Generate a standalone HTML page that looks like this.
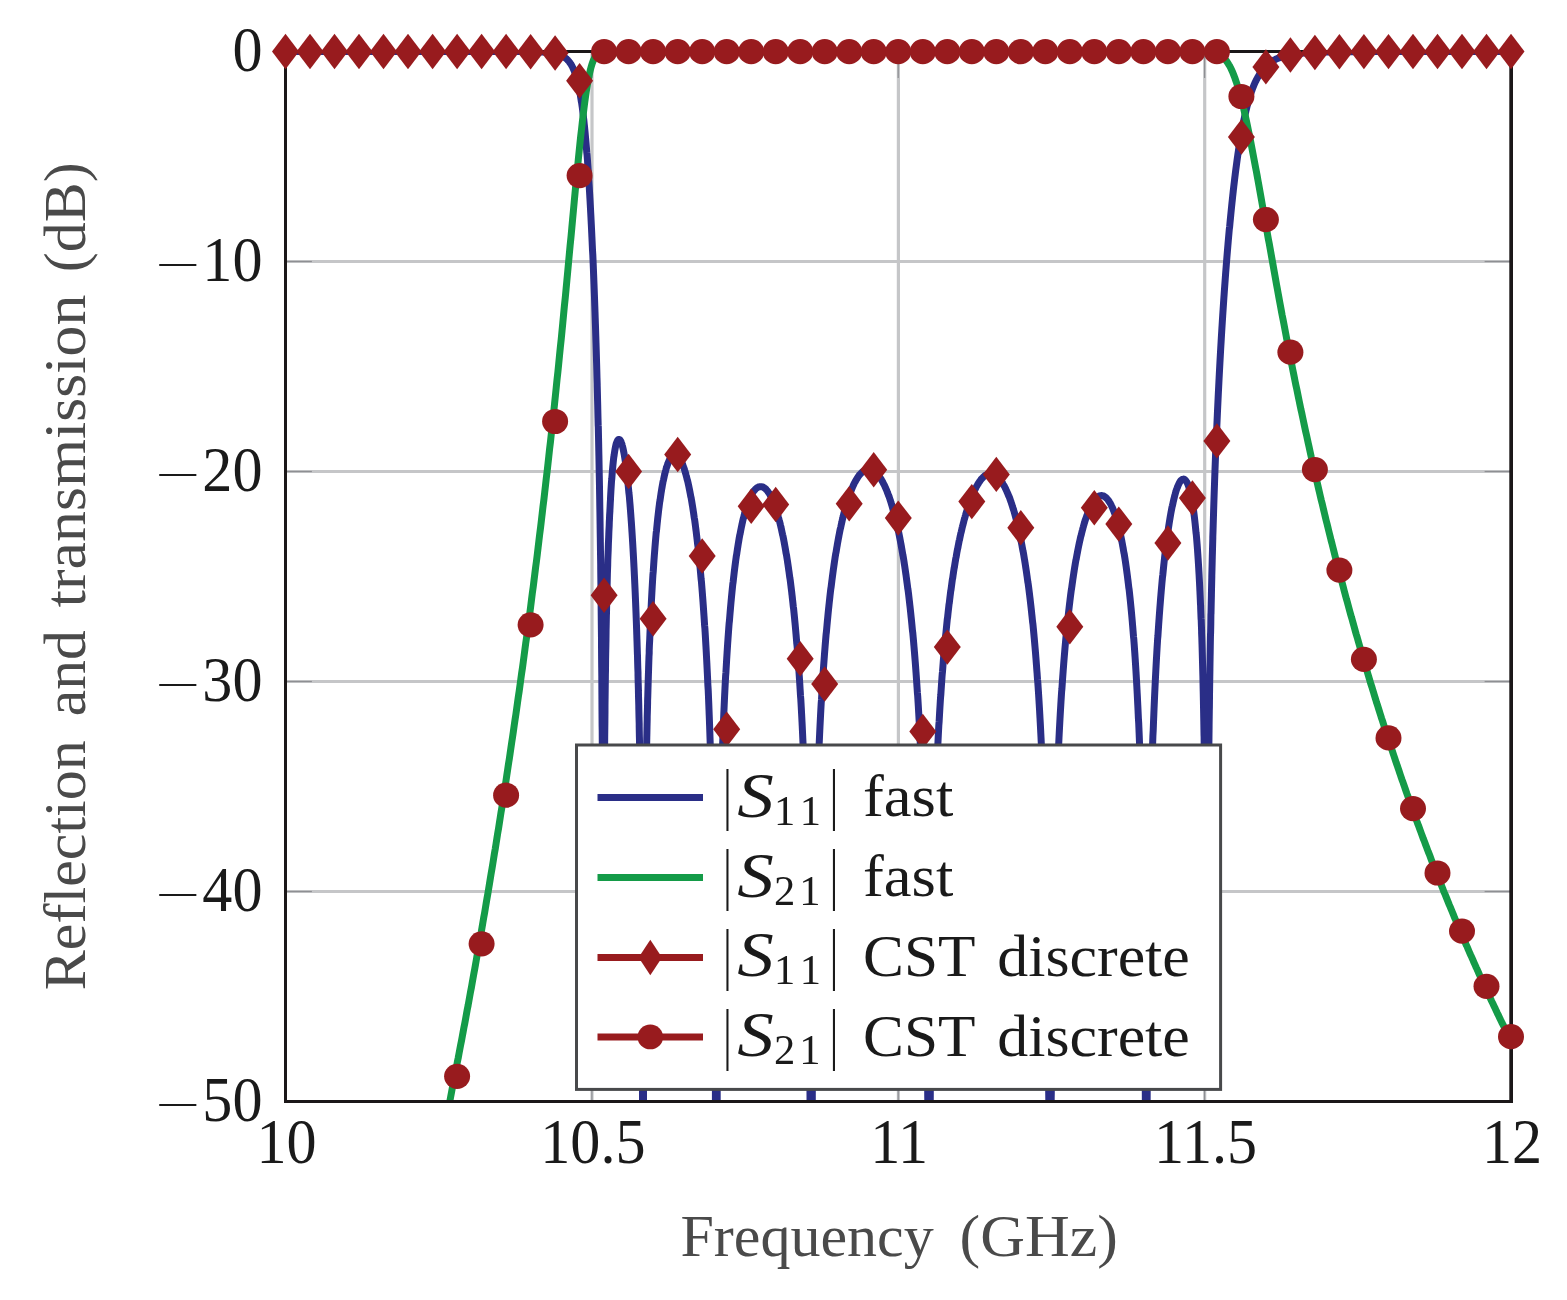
<!DOCTYPE html>
<html><head><meta charset="utf-8"><title>S-parameters</title>
<style>
html,body{margin:0;padding:0;background:#fff}
svg{display:block}
text{font-family:"Liberation Serif",serif;font-size:60px;fill:#1a1a1a}
.lab{fill:#4a4a4a}
.it{font-style:italic;font-size:63px}
.sub{font-size:42.5px;letter-spacing:6px}
.tk{font-size:64px}
</style></head><body>
<svg width="1567" height="1300" viewBox="0 0 1567 1300">
<rect width="1567" height="1300" fill="#fff"/>
<defs><clipPath id="cp"><rect x="285.5" y="50.2" width="1225.5" height="1051.3"/></clipPath></defs>
<g stroke="#c5c6c8" stroke-width="2.8"><line stroke-width="3.2" x1="592.0" y1="51.5" x2="592.0" y2="1101.5"/><line stroke-width="3.2" x1="898.4" y1="51.5" x2="898.4" y2="1101.5"/><line stroke-width="3.2" x1="1204.7" y1="51.5" x2="1204.7" y2="1101.5"/><line x1="285.5" y1="261.5" x2="1511.0" y2="261.5"/><line x1="285.5" y1="471.5" x2="1511.0" y2="471.5"/><line x1="285.5" y1="681.5" x2="1511.0" y2="681.5"/><line x1="285.5" y1="891.5" x2="1511.0" y2="891.5"/></g>
<g stroke="#8e8f93" stroke-width="1.2"><line x1="591.9" y1="51.5" x2="591.9" y2="77.9"/><line x1="591.9" y1="1101.5" x2="591.9" y2="1075.1"/><line x1="898.2" y1="51.5" x2="898.2" y2="77.9"/><line x1="898.2" y1="1101.5" x2="898.2" y2="1075.1"/><line x1="1204.6" y1="51.5" x2="1204.6" y2="77.9"/><line x1="1204.6" y1="1101.5" x2="1204.6" y2="1075.1"/><line x1="285.5" y1="261.5" x2="311.9" y2="261.5"/><line x1="1511.0" y1="261.5" x2="1484.6" y2="261.5"/><line x1="285.5" y1="471.5" x2="311.9" y2="471.5"/><line x1="1511.0" y1="471.5" x2="1484.6" y2="471.5"/><line x1="285.5" y1="681.5" x2="311.9" y2="681.5"/><line x1="1511.0" y1="681.5" x2="1484.6" y2="681.5"/><line x1="285.5" y1="891.5" x2="311.9" y2="891.5"/><line x1="1511.0" y1="891.5" x2="1484.6" y2="891.5"/></g>
<g clip-path="url(#cp)" fill="none" stroke-width="7" stroke-linejoin="round">
<polyline stroke="#2a2e87" points="282.5,51.5 282.9,51.5 283.3,51.5 283.7,51.5 284.1,51.5 284.5,51.5 285.0,51.5 285.4,51.5 285.8,51.5 286.2,51.5 286.6,51.5 287.0,51.5 287.4,51.5 287.8,51.5 288.2,51.5 288.6,51.5 289.0,51.5 289.4,51.5 289.9,51.5 290.3,51.5 290.7,51.5 291.1,51.5 291.5,51.5 291.9,51.5 292.3,51.5 292.7,51.5 293.1,51.5 293.5,51.5 293.9,51.5 294.3,51.5 294.8,51.5 295.2,51.5 295.6,51.5 296.0,51.5 296.4,51.5 296.8,51.5 297.2,51.5 297.6,51.5 298.0,51.5 298.4,51.5 298.8,51.5 299.2,51.5 299.7,51.5 300.1,51.5 300.5,51.5 300.9,51.5 301.3,51.5 301.7,51.5 302.1,51.5 302.5,51.5 302.9,51.5 303.3,51.5 303.7,51.5 304.2,51.5 304.6,51.5 305.0,51.5 305.4,51.5 305.8,51.5 306.2,51.5 306.6,51.5 307.0,51.5 307.4,51.5 307.8,51.5 308.2,51.5 308.6,51.5 309.1,51.5 309.5,51.5 309.9,51.5 310.3,51.5 310.7,51.5 311.1,51.5 311.5,51.5 311.9,51.5 312.3,51.5 312.7,51.5 313.1,51.5 313.5,51.5 314.0,51.5 314.4,51.5 314.8,51.5 315.2,51.5 315.6,51.5 316.0,51.5 316.4,51.5 316.8,51.5 317.2,51.5 317.6,51.5 318.0,51.5 318.4,51.5 318.9,51.5 319.3,51.5 319.7,51.5 320.1,51.5 320.5,51.5 320.9,51.5 321.3,51.5 321.7,51.5 322.1,51.5 322.5,51.5 322.9,51.5 323.3,51.5 323.8,51.5 324.2,51.5 324.6,51.5 325.0,51.5 325.4,51.5 325.8,51.5 326.2,51.5 326.6,51.5 327.0,51.5 327.4,51.5 327.8,51.5 328.3,51.5 328.7,51.5 329.1,51.5 329.5,51.5 329.9,51.5 330.3,51.5 330.7,51.5 331.1,51.5 331.5,51.5 331.9,51.5 332.3,51.5 332.7,51.5 333.2,51.5 333.6,51.5 334.0,51.5 334.4,51.5 334.8,51.5 335.2,51.5 335.6,51.5 336.0,51.5 336.4,51.5 336.8,51.5 337.2,51.5 337.6,51.5 338.1,51.5 338.5,51.5 338.9,51.5 339.3,51.5 339.7,51.5 340.1,51.5 340.5,51.5 340.9,51.5 341.3,51.5 341.7,51.5 342.1,51.5 342.5,51.5 343.0,51.5 343.4,51.5 343.8,51.5 344.2,51.5 344.6,51.5 345.0,51.5 345.4,51.5 345.8,51.5 346.2,51.5 346.6,51.5 347.0,51.5 347.5,51.5 347.9,51.5 348.3,51.5 348.7,51.5 349.1,51.5 349.5,51.5 349.9,51.5 350.3,51.5 350.7,51.5 351.1,51.5 351.5,51.5 351.9,51.5 352.4,51.5 352.8,51.5 353.2,51.5 353.6,51.5 354.0,51.5 354.4,51.5 354.8,51.5 355.2,51.5 355.6,51.5 356.0,51.5 356.4,51.5 356.8,51.5 357.3,51.5 357.7,51.5 358.1,51.5 358.5,51.5 358.9,51.5 359.3,51.5 359.7,51.5 360.1,51.5 360.5,51.5 360.9,51.5 361.3,51.5 361.7,51.5 362.2,51.5 362.6,51.5 363.0,51.5 363.4,51.5 363.8,51.5 364.2,51.5 364.6,51.5 365.0,51.5 365.4,51.5 365.8,51.5 366.2,51.5 366.7,51.5 367.1,51.5 367.5,51.5 367.9,51.5 368.3,51.5 368.7,51.5 369.1,51.5 369.5,51.5 369.9,51.5 370.3,51.5 370.7,51.5 371.1,51.5 371.6,51.5 372.0,51.5 372.4,51.5 372.8,51.5 373.2,51.5 373.6,51.5 374.0,51.5 374.4,51.5 374.8,51.5 375.2,51.5 375.6,51.5 376.0,51.5 376.5,51.5 376.9,51.5 377.3,51.5 377.7,51.5 378.1,51.5 378.5,51.5 378.9,51.5 379.3,51.5 379.7,51.5 380.1,51.5 380.5,51.5 380.9,51.5 381.4,51.5 381.8,51.5 382.2,51.5 382.6,51.5 383.0,51.5 383.4,51.5 383.8,51.5 384.2,51.5 384.6,51.5 385.0,51.5 385.4,51.5 385.9,51.5 386.3,51.5 386.7,51.5 387.1,51.5 387.5,51.5 387.9,51.5 388.3,51.5 388.7,51.5 389.1,51.5 389.5,51.5 389.9,51.5 390.3,51.5 390.8,51.5 391.2,51.5 391.6,51.5 392.0,51.5 392.4,51.5 392.8,51.5 393.2,51.5 393.6,51.5 394.0,51.5 394.4,51.5 394.8,51.5 395.2,51.5 395.7,51.5 396.1,51.5 396.5,51.5 396.9,51.5 397.3,51.5 397.7,51.5 398.1,51.5 398.5,51.5 398.9,51.5 399.3,51.5 399.7,51.5 400.1,51.5 400.6,51.5 401.0,51.5 401.4,51.5 401.8,51.5 402.2,51.5 402.6,51.5 403.0,51.5 403.4,51.5 403.8,51.5 404.2,51.5 404.6,51.5 405.0,51.5 405.5,51.5 405.9,51.5 406.3,51.5 406.7,51.5 407.1,51.5 407.5,51.5 407.9,51.5 408.3,51.5 408.7,51.5 409.1,51.5 409.5,51.5 410.0,51.5 410.4,51.5 410.8,51.5 411.2,51.5 411.6,51.5 412.0,51.5 412.4,51.5 412.8,51.5 413.2,51.5 413.6,51.5 414.0,51.5 414.4,51.5 414.9,51.5 415.3,51.5 415.7,51.5 416.1,51.5 416.5,51.5 416.9,51.5 417.3,51.5 417.7,51.5 418.1,51.5 418.5,51.5 418.9,51.5 419.3,51.5 419.8,51.5 420.2,51.5 420.6,51.5 421.0,51.5 421.4,51.5 421.8,51.5 422.2,51.5 422.6,51.5 423.0,51.5 423.4,51.5 423.8,51.5 424.2,51.5 424.7,51.5 425.1,51.5 425.5,51.5 425.9,51.5 426.3,51.5 426.7,51.5 427.1,51.5 427.5,51.5 427.9,51.5 428.3,51.5 428.7,51.5 429.2,51.5 429.6,51.5 430.0,51.5 430.4,51.5 430.8,51.5 431.2,51.5 431.6,51.5 432.0,51.5 432.4,51.5 432.8,51.5 433.2,51.5 433.6,51.5 434.1,51.5 434.5,51.5 434.9,51.5 435.3,51.5 435.7,51.5 436.1,51.5 436.5,51.5 436.9,51.5 437.3,51.5 437.7,51.5 438.1,51.5 438.5,51.5 439.0,51.5 439.4,51.5 439.8,51.5 440.2,51.5 440.6,51.5 441.0,51.5 441.4,51.5 441.8,51.5 442.2,51.5 442.6,51.5 443.0,51.5 443.4,51.5 443.9,51.5 444.3,51.5 444.7,51.5 445.1,51.5 445.5,51.5 445.9,51.5 446.3,51.5 446.7,51.5 447.1,51.5 447.5,51.5 447.9,51.5 448.4,51.5 448.8,51.5 449.2,51.5 449.6,51.5 450.0,51.5 450.4,51.5 450.8,51.5 451.2,51.5 451.6,51.5 452.0,51.5 452.4,51.5 452.8,51.5 453.3,51.5 453.7,51.5 454.1,51.5 454.5,51.5 454.9,51.5 455.3,51.5 455.7,51.5 456.1,51.5 456.5,51.5 456.9,51.5 457.3,51.5 457.8,51.5 458.2,51.5 458.6,51.5 459.0,51.5 459.4,51.5 459.8,51.5 460.2,51.5 460.6,51.5 461.1,51.5 461.5,51.5 461.9,51.5 462.3,51.5 462.7,51.5 463.1,51.5 463.5,51.5 463.9,51.5 464.4,51.5 464.8,51.5 465.2,51.5 465.6,51.5 466.0,51.5 466.4,51.5 466.8,51.5 467.2,51.5 467.7,51.5 468.1,51.5 468.5,51.5 468.9,51.5 469.3,51.5 469.7,51.5 470.1,51.5 470.5,51.5 471.0,51.5 471.4,51.5 471.8,51.5 472.2,51.5 472.6,51.5 473.0,51.5 473.4,51.5 473.8,51.5 474.3,51.5 474.7,51.5 475.1,51.5 475.5,51.5 475.9,51.5 476.3,51.5 476.7,51.5 477.1,51.5 477.6,51.5 478.0,51.5 478.4,51.5 478.8,51.5 479.2,51.5 479.6,51.5 480.0,51.5 480.4,51.5 480.9,51.5 481.3,51.5 481.7,51.5 482.1,51.5 482.5,51.5 482.9,51.5 483.3,51.5 483.7,51.5 484.1,51.5 484.6,51.5 485.0,51.5 485.4,51.5 485.8,51.5 486.2,51.5 486.6,51.5 487.0,51.5 487.4,51.5 487.9,51.5 488.3,51.5 488.7,51.5 489.1,51.5 489.5,51.5 489.9,51.5 490.3,51.5 490.7,51.5 491.1,51.5 491.6,51.5 492.0,51.5 492.4,51.5 492.8,51.5 493.2,51.5 493.6,51.5 494.0,51.5 494.4,51.5 494.9,51.5 495.3,51.5 495.7,51.5 496.1,51.5 496.5,51.5 496.9,51.5 497.3,51.5 497.7,51.5 498.2,51.5 498.6,51.5 499.0,51.5 499.4,51.5 499.8,51.5 500.2,51.5 500.6,51.5 501.0,51.5 501.4,51.5 501.9,51.5 502.3,51.5 502.7,51.5 503.1,51.5 503.5,51.5 503.9,51.5 504.3,51.5 504.7,51.5 505.2,51.5 505.6,51.5 506.0,51.5 506.4,51.5 506.8,51.5 507.2,51.5 507.6,51.5 508.0,51.5 508.4,51.5 508.9,51.5 509.3,51.5 509.7,51.5 510.1,51.5 510.5,51.5 510.9,51.5 511.3,51.5 511.7,51.5 512.2,51.5 512.6,51.5 513.0,51.6 513.4,51.6 513.8,51.6 514.2,51.6 514.6,51.6 515.0,51.6 515.4,51.6 515.9,51.6 516.3,51.6 516.7,51.6 517.1,51.6 517.5,51.6 517.9,51.6 518.3,51.6 518.7,51.6 519.2,51.6 519.6,51.6 520.0,51.6 520.4,51.6 520.8,51.6 521.2,51.6 521.6,51.6 522.0,51.6 522.5,51.6 522.9,51.6 523.3,51.6 523.7,51.6 524.1,51.6 524.5,51.6 524.9,51.6 525.3,51.6 525.7,51.6 526.2,51.6 526.6,51.6 527.0,51.7 527.4,51.7 527.8,51.7 528.2,51.7 528.6,51.7 529.0,51.7 529.5,51.7 529.9,51.7 530.3,51.7 530.7,51.7 531.1,51.7 531.5,51.7 531.9,51.7 532.3,51.7 532.7,51.7 533.2,51.8 533.6,51.8 534.0,51.8 534.4,51.8 534.8,51.8 535.2,51.8 535.6,51.8 536.0,51.8 536.5,51.8 536.9,51.9 537.3,51.9 537.7,51.9 538.1,51.9 538.5,51.9 538.9,51.9 539.3,51.9 539.7,52.0 540.2,52.0 540.6,52.0 541.0,52.0 541.4,52.0 541.8,52.1 542.2,52.1 542.6,52.1 543.0,52.1 543.5,52.1 543.9,52.2 544.3,52.2 544.7,52.2 545.1,52.3 545.5,52.3 545.9,52.3 546.3,52.4 546.8,52.4 547.2,52.4 547.6,52.5 548.0,52.5 548.4,52.5 548.8,52.6 549.2,52.6 549.6,52.7 550.0,52.7 550.5,52.8 550.9,52.8 551.3,52.9 551.7,52.9 552.1,53.0 552.5,53.1 552.9,53.1 553.3,53.2 553.8,53.3 554.2,53.4 554.6,53.4 555.0,53.5 555.4,53.6 555.8,53.7 556.2,53.8 556.6,53.9 557.0,54.0 557.5,54.1 557.9,54.3 558.3,54.4 558.7,54.5 559.1,54.7 559.5,54.8 559.9,55.0 560.3,55.1 560.8,55.3 561.2,55.5 561.6,55.7 562.0,55.9 562.4,56.1 562.8,56.3 563.2,56.5 563.6,56.8 564.0,57.0 564.4,57.3 564.9,57.6 565.3,57.9 565.7,58.2 566.1,58.5 566.5,58.9 566.9,59.2 567.3,59.6 567.7,60.0 568.1,60.5 568.5,60.9 568.9,61.4 569.3,61.9 569.7,62.5 570.1,63.1 570.6,63.7 571.0,64.3 571.4,65.0 571.8,65.7 572.2,66.5 572.6,67.3 573.0,68.1 573.4,69.0 573.8,69.9 574.2,70.9 574.4,71.5 574.6,72.0 574.8,72.6 575.0,73.1 575.2,73.7 575.4,74.3 575.6,74.9 575.8,75.6 576.1,76.2 576.3,76.9 576.5,77.6 576.7,78.3 576.9,79.0 577.1,79.8 577.3,80.5 577.5,81.3 577.7,82.1 577.9,83.0 578.1,83.8 578.3,84.7 578.5,85.6 578.7,86.5 578.9,87.5 579.1,88.5 579.3,89.5 579.5,90.5 579.7,91.6 579.9,92.7 580.1,93.8 580.3,95.0 580.5,96.2 580.7,97.4 580.9,98.7 581.1,99.9 581.3,101.3 581.6,102.6 581.8,104.0 582.0,105.4 582.2,106.9 582.4,108.4 582.6,109.9 582.8,111.5 583.0,113.1 583.2,114.8 583.4,116.5 583.6,118.3 583.8,120.0 584.0,121.9 584.2,123.8 584.4,125.7 584.6,127.7 584.8,129.7 585.0,131.7 585.2,133.9 585.4,136.0 585.6,138.2 585.8,140.5 586.0,142.8 586.2,145.2 586.4,147.6 586.6,150.1 586.8,152.6 587.1,155.2 587.3,157.9 587.5,160.6 587.7,163.4 587.9,166.2 588.1,169.1 588.3,172.0 588.5,175.0 588.7,178.1 588.9,181.3 589.1,184.5 589.3,187.7 589.5,191.1 589.7,194.5 589.9,198.0 590.1,201.5 590.3,205.1 590.5,208.8 590.7,212.6 590.9,216.4 591.1,220.4 591.3,224.4 591.5,228.4 591.7,232.6 591.9,236.8 592.1,241.2 592.3,245.6 592.5,250.1 592.8,254.7 593.0,259.3 593.2,264.1 593.4,269.0 593.6,274.0 593.8,279.1 594.0,284.2 594.2,289.5 594.4,294.9 594.6,300.5 594.8,306.1 595.0,311.9 595.2,317.8 595.4,323.8 595.6,330.0 595.8,336.3 596.0,342.8 596.2,349.4 596.4,356.3 596.6,363.2 596.8,370.4 597.0,377.8 597.2,383.8 597.2,385.4 597.4,393.2 597.6,401.2 597.7,404.9 597.8,409.5 598.0,418.1 598.2,425.7 598.3,426.9 598.5,436.1 598.7,445.6 598.7,446.3 598.9,455.4 599.1,465.7 599.1,466.6 599.3,476.4 599.5,486.7 599.5,487.6 599.7,499.3 599.8,506.5 599.9,511.6 600.1,524.6 600.1,526.1 600.3,538.3 600.4,545.5 600.5,552.9 600.7,564.7 600.7,568.4 600.9,583.7 600.9,585.1 601.1,602.5 601.1,603.1 601.3,621.2 601.3,622.7 601.5,639.7 601.5,644.2 601.6,658.1 601.7,668.1 601.8,676.4 601.9,694.6 602.0,712.6 602.1,726.0 602.2,730.6 602.3,748.4 602.3,762.5 602.4,766.2 602.4,783.9 602.5,801.6 602.5,807.1 602.6,819.1 602.7,836.7 602.7,854.1 602.7,864.9 602.8,871.5 602.8,888.9 602.9,906.2 602.9,923.5 602.9,940.8 603.0,947.8 603.0,958.0 603.0,975.2 603.0,975.8 603.3,975.8 603.5,975.9 603.7,964.6 603.7,948.0 603.7,931.5 603.8,917.0 603.8,914.9 603.8,898.5 603.9,882.0 603.9,865.6 604.0,850.9 604.0,849.3 604.1,833.0 604.2,816.8 604.3,803.4 604.3,800.6 604.4,784.5 604.5,768.5 604.5,766.6 604.6,752.6 604.7,736.8 604.9,721.1 605.0,711.3 605.0,705.5 605.2,690.1 605.4,674.8 605.5,670.7 605.6,659.6 605.7,654.0 605.9,644.7 606.0,639.0 606.1,629.9 606.2,625.4 606.4,615.4 606.5,613.1 606.7,601.9 606.7,601.1 606.9,591.6 607.1,587.0 607.2,582.0 607.4,573.3 607.7,565.0 607.8,559.9 607.9,557.4 608.2,550.2 608.3,546.9 608.4,543.5 608.7,537.2 608.8,534.2 608.9,531.3 609.2,525.8 609.3,522.0 609.4,520.6 609.6,515.6 609.9,511.0 609.9,510.4 610.1,506.6 610.3,502.4 610.5,499.2 610.5,498.4 610.7,494.7 610.9,491.1 611.1,487.8 611.3,484.6 611.5,481.5 611.8,478.7 612.0,475.9 612.2,473.4 612.4,470.9 612.6,468.6 612.8,466.4 613.0,464.3 613.2,462.3 613.4,460.4 613.6,458.7 613.8,457.0 614.1,455.4 614.3,453.9 614.5,452.5 614.7,451.2 614.9,450.0 615.1,448.9 615.3,447.8 615.5,446.8 615.7,445.9 615.9,445.0 616.1,444.2 616.3,443.5 616.6,442.8 616.8,442.2 617.0,441.7 617.4,440.8 617.8,440.2 618.2,439.7 618.6,439.5 619.1,439.5 619.5,439.6 619.9,439.9 620.3,440.4 620.7,441.1 621.1,441.9 621.5,443.0 621.7,443.5 621.9,444.2 622.1,444.8 622.3,445.6 622.5,446.3 622.7,447.1 622.9,447.9 623.1,448.8 623.3,449.7 623.5,450.7 623.7,451.7 623.9,452.7 624.1,453.8 624.3,454.9 624.5,456.1 624.7,457.3 624.9,458.6 625.1,459.9 625.3,461.2 625.5,462.6 625.7,464.0 625.9,465.5 626.1,467.0 626.3,468.5 626.5,470.1 626.7,471.8 626.9,473.4 627.1,475.2 627.3,476.9 627.5,478.8 627.7,480.6 627.9,482.5 628.1,484.5 628.3,486.5 628.5,488.6 628.7,490.7 628.9,492.8 629.2,495.1 629.4,497.3 629.6,499.6 629.8,502.0 630.0,504.4 630.2,506.9 630.4,509.5 630.6,512.1 630.8,514.7 631.0,517.5 631.2,520.3 631.4,523.1 631.6,526.0 631.8,529.0 632.0,532.1 632.2,535.2 632.4,538.4 632.6,541.7 632.8,545.1 633.0,548.5 633.2,552.1 633.4,555.7 633.6,559.4 633.8,563.2 634.0,567.1 634.2,571.2 634.4,575.3 634.6,579.5 634.8,583.9 635.0,588.3 635.2,592.9 635.4,597.6 635.6,602.5 635.8,607.5 636.0,612.7 636.2,618.0 636.4,623.5 636.6,629.2 636.8,635.1 636.9,638.4 637.0,641.1 637.2,647.4 637.4,654.0 637.5,655.4 637.6,660.7 637.8,667.8 638.0,672.4 638.0,675.1 638.2,682.8 638.4,689.5 638.4,690.7 638.6,699.1 638.8,706.5 638.8,707.8 639.0,717.0 639.2,723.6 639.2,726.7 639.4,736.9 639.5,740.7 639.6,747.7 639.8,757.8 639.8,759.2 640.0,771.5 640.1,774.9 640.2,784.6 640.4,792.0 640.5,798.7 640.6,809.1 640.7,814.0 640.8,826.2 640.9,830.7 641.0,843.3 641.1,849.0 641.2,860.4 641.3,869.4 641.3,877.4 641.5,892.2 641.5,894.5 641.6,911.5 641.7,918.3 641.7,928.6 641.8,945.6 641.9,948.7 641.9,962.6 642.0,979.6 642.1,985.1 642.1,996.6 642.2,1013.6 642.3,1030.5 642.3,1047.6 642.4,1064.6 642.4,1081.6 642.5,1090.9 642.5,1098.5 642.5,1115.5 642.6,1132.4 642.6,1149.4 642.6,1166.4 642.7,1181.6 642.7,1183.3 642.7,1200.3 642.7,1217.2 642.7,1228.5 643.0,1228.5 643.2,1217.8 643.3,1201.0 643.3,1196.5 643.3,1184.1 643.3,1167.2 643.4,1150.3 643.4,1133.5 643.4,1116.6 643.5,1100.7 643.5,1099.8 643.5,1082.9 643.6,1066.1 643.6,1049.2 643.7,1038.3 643.7,1032.4 643.8,1015.6 643.9,998.8 643.9,992.1 643.9,982.0 644.0,965.2 644.1,955.3 644.1,948.5 644.2,931.7 644.3,924.9 644.4,915.0 644.5,898.8 644.5,898.3 644.7,881.6 644.7,876.2 644.8,864.9 644.9,856.1 645.0,848.3 645.1,838.0 645.2,831.7 645.3,821.7 645.4,815.1 645.5,806.7 645.7,798.6 645.7,793.0 645.9,782.1 645.9,780.2 646.2,768.4 646.2,765.7 646.4,757.3 646.5,749.3 646.6,746.9 646.8,737.1 646.9,733.1 647.0,727.8 647.2,719.1 647.2,716.9 647.4,710.8 647.6,702.9 647.6,700.8 647.8,695.3 648.0,688.1 648.1,684.8 648.2,681.2 648.4,674.6 648.6,668.9 648.6,668.3 648.8,662.2 649.0,656.3 649.2,653.2 649.2,650.7 649.4,645.3 649.7,640.0 649.9,634.9 650.1,630.0 650.3,625.3 650.5,620.7 650.7,616.3 650.9,612.0 651.1,607.8 651.3,603.7 651.5,599.8 651.7,596.0 651.9,592.3 652.1,588.7 652.3,585.1 652.5,581.7 652.7,578.4 652.9,575.1 653.2,572.0 653.4,568.9 653.6,565.9 653.8,563.0 654.0,560.1 654.2,557.3 654.4,554.6 654.6,552.0 654.8,549.4 655.0,546.8 655.2,544.4 655.4,541.9 655.6,539.6 655.8,537.3 656.0,535.0 656.2,532.8 656.5,530.7 656.7,528.6 656.9,526.5 657.1,524.5 657.3,522.5 657.5,520.6 657.7,518.7 657.9,516.9 658.1,515.1 658.3,513.3 658.5,511.6 658.7,509.9 658.9,508.3 659.1,506.7 659.3,505.1 659.5,503.5 659.7,502.0 660.0,500.6 660.2,499.1 660.4,497.7 660.6,496.3 660.8,495.0 661.0,493.6 661.2,492.3 661.4,491.1 661.6,489.8 661.8,488.6 662.0,487.5 662.2,486.3 662.4,485.2 662.6,484.1 662.8,483.0 663.0,481.9 663.2,480.9 663.5,479.9 663.7,478.9 663.9,478.0 664.1,477.0 664.3,476.1 664.5,475.2 664.7,474.4 664.9,473.5 665.1,472.7 665.3,471.9 665.5,471.1 665.7,470.4 665.9,469.6 666.1,468.9 666.3,468.2 666.5,467.6 666.7,466.9 667.0,466.3 667.2,465.6 667.4,465.0 667.6,464.4 667.8,463.9 668.0,463.3 668.2,462.8 668.4,462.3 668.8,461.3 669.2,460.4 669.6,459.6 670.0,458.8 670.5,458.1 670.9,457.5 671.3,456.9 671.7,456.4 672.1,456.0 672.5,455.6 672.9,455.3 673.3,455.0 673.8,454.8 674.2,454.6 674.6,454.6 675.0,454.5 675.4,454.6 675.8,454.7 676.2,454.9 676.6,455.1 677.0,455.4 677.5,455.7 677.9,456.1 678.3,456.5 678.7,457.0 679.1,457.6 679.5,458.2 679.9,458.8 680.3,459.5 680.8,460.3 681.2,461.1 681.6,462.0 682.0,462.9 682.4,463.9 682.6,464.4 682.8,464.9 683.0,465.5 683.2,466.0 683.4,466.6 683.6,467.2 683.8,467.7 684.1,468.4 684.3,469.0 684.5,469.6 684.7,470.3 684.9,470.9 685.1,471.6 685.3,472.3 685.5,473.0 685.7,473.7 685.9,474.4 686.1,475.2 686.3,475.9 686.5,476.7 686.7,477.5 686.9,478.3 687.1,479.1 687.3,480.0 687.6,480.8 687.8,481.7 688.0,482.6 688.2,483.5 688.4,484.4 688.6,485.3 688.8,486.3 689.0,487.2 689.2,488.2 689.4,489.2 689.6,490.2 689.8,491.2 690.0,492.2 690.2,493.3 690.4,494.4 690.6,495.5 690.8,496.6 691.1,497.7 691.3,498.8 691.5,500.0 691.7,501.2 691.9,502.4 692.1,503.6 692.3,504.8 692.5,506.0 692.7,507.3 692.9,508.6 693.1,509.9 693.3,511.2 693.5,512.6 693.7,513.9 693.9,515.3 694.1,516.7 694.3,518.1 694.6,519.6 694.8,521.0 695.0,522.5 695.2,524.0 695.4,525.6 695.6,527.1 695.8,528.7 696.0,530.3 696.2,531.9 696.4,533.6 696.6,535.2 696.8,536.9 697.0,538.7 697.2,540.4 697.4,542.2 697.6,544.0 697.9,545.8 698.1,547.6 698.3,549.5 698.5,551.4 698.7,553.4 698.9,555.3 699.1,557.3 699.3,559.3 699.5,561.4 699.7,563.5 699.9,565.6 700.1,567.8 700.3,569.9 700.5,572.2 700.7,574.4 700.9,576.7 701.1,579.0 701.4,581.4 701.6,583.8 701.8,586.3 702.0,588.7 702.2,591.3 702.4,593.8 702.6,596.5 702.8,599.1 703.0,601.8 703.2,604.6 703.4,607.4 703.6,610.2 703.8,613.2 704.0,616.1 704.2,619.1 704.4,622.2 704.6,625.3 704.9,628.5 705.1,631.8 705.3,635.1 705.5,638.5 705.7,642.0 705.9,645.5 706.1,649.1 706.3,652.8 706.5,656.6 706.7,660.4 706.9,664.3 707.1,668.4 707.3,672.5 707.5,676.7 707.7,681.1 707.9,685.5 708.2,690.1 708.4,694.7 708.6,699.6 708.8,704.5 709.0,709.6 709.2,714.8 709.4,720.2 709.6,725.7 709.8,731.5 710.0,737.4 710.1,740.3 710.2,743.5 710.4,749.8 710.6,756.4 710.7,757.3 710.8,763.2 711.0,770.2 711.2,774.4 711.2,777.6 711.4,785.3 711.6,791.4 711.7,793.3 711.9,801.6 712.0,808.4 712.1,810.4 712.3,819.6 712.4,825.5 712.5,829.2 712.7,839.5 712.7,842.5 712.9,850.3 713.1,859.5 713.1,861.8 713.3,874.0 713.3,876.6 713.5,887.2 713.6,893.6 713.7,901.3 713.8,910.6 713.9,916.6 714.1,927.6 714.1,933.3 714.3,944.6 714.3,951.7 714.4,961.7 714.5,972.1 714.6,978.6 714.7,995.1 714.7,995.6 714.9,1012.6 714.9,1021.4 715.0,1029.6 715.1,1046.6 715.2,1052.0 715.2,1063.6 715.3,1080.5 715.4,1088.8 715.4,1097.5 715.5,1114.4 715.6,1131.4 715.6,1135.0 715.6,1148.4 715.7,1165.3 715.7,1182.2 715.8,1196.7 715.8,1199.2 715.8,1216.1 715.9,1229.1 716.1,1229.1 716.4,1229.1 716.6,1229.1 716.7,1216.7 716.8,1199.9 716.8,1195.6 716.8,1183.0 716.9,1166.1 716.9,1149.2 717.0,1134.6 717.0,1132.4 717.1,1115.5 717.2,1098.6 717.2,1089.0 717.2,1081.8 717.3,1065.0 717.4,1052.7 717.4,1048.1 717.6,1031.3 717.6,1022.4 717.7,1014.5 717.8,997.7 717.8,996.5 718.0,980.9 718.0,973.9 718.1,964.1 718.2,953.8 718.3,947.3 718.4,935.8 718.5,930.6 718.7,919.3 718.7,913.8 718.9,904.3 719.0,897.1 719.1,890.5 719.2,880.4 719.3,877.6 719.5,865.7 719.5,863.8 719.7,854.5 719.8,847.2 719.9,843.9 720.1,834.0 720.2,830.6 720.3,824.6 720.5,815.7 720.5,814.0 720.7,807.2 720.9,799.1 721.0,797.5 721.1,791.4 721.3,784.0 721.4,781.1 721.5,777.0 721.7,770.2 721.9,764.7 721.9,763.6 722.1,757.3 722.4,751.3 722.5,748.4 722.6,745.4 722.8,739.8 723.0,734.3 723.2,729.1 723.4,723.9 723.6,719.0 723.8,714.2 724.0,709.5 724.2,704.9 724.4,700.5 724.6,696.2 724.8,692.1 725.0,688.0 725.2,684.0 725.4,680.2 725.6,676.4 725.9,672.7 726.1,669.1 726.3,665.6 726.5,662.2 726.7,658.8 726.9,655.5 727.1,652.3 727.3,649.2 727.5,646.1 727.7,643.1 727.9,640.2 728.1,637.3 728.3,634.5 728.5,631.7 728.7,629.0 728.9,626.3 729.1,623.7 729.4,621.2 729.6,618.7 729.8,616.2 730.0,613.8 730.2,611.4 730.4,609.1 730.6,606.8 730.8,604.5 731.0,602.3 731.2,600.2 731.4,598.0 731.6,595.9 731.8,593.9 732.0,591.9 732.2,589.9 732.4,587.9 732.6,586.0 732.8,584.1 733.1,582.2 733.3,580.4 733.5,578.6 733.7,576.8 733.9,575.1 734.1,573.4 734.3,571.7 734.5,570.0 734.7,568.4 734.9,566.8 735.1,565.2 735.3,563.7 735.5,562.1 735.7,560.6 735.9,559.1 736.1,557.7 736.3,556.2 736.6,554.8 736.8,553.4 737.0,552.0 737.2,550.7 737.4,549.4 737.6,548.0 737.8,546.8 738.0,545.5 738.2,544.2 738.4,543.0 738.6,541.8 738.8,540.6 739.0,539.4 739.2,538.2 739.4,537.1 739.6,536.0 739.8,534.9 740.1,533.8 740.3,532.7 740.5,531.7 740.7,530.6 740.9,529.6 741.1,528.6 741.3,527.6 741.5,526.6 741.7,525.7 741.9,524.7 742.1,523.8 742.3,522.9 742.5,522.0 742.7,521.1 742.9,520.2 743.1,519.3 743.3,518.5 743.6,517.7 743.8,516.8 744.0,516.0 744.2,515.3 744.4,514.5 744.6,513.7 744.8,513.0 745.0,512.2 745.2,511.5 745.4,510.8 745.6,510.1 745.8,509.4 746.0,508.7 746.2,508.0 746.4,507.4 746.6,506.7 746.8,506.1 747.0,505.5 747.3,504.9 747.5,504.3 747.7,503.7 747.9,503.1 748.1,502.6 748.3,502.0 748.5,501.5 748.7,501.0 748.9,500.4 749.1,499.9 749.5,498.9 749.9,498.0 750.3,497.1 750.8,496.2 751.2,495.4 751.6,494.6 752.0,493.9 752.4,493.2 752.8,492.5 753.2,491.9 753.6,491.3 754.0,490.8 754.5,490.2 754.9,489.8 755.3,489.3 755.7,488.9 756.1,488.5 756.5,488.2 756.9,487.9 757.3,487.6 757.7,487.4 758.2,487.2 758.6,487.0 759.0,486.9 759.4,486.8 759.8,486.7 760.2,486.7 760.6,486.7 761.0,486.7 761.5,486.7 761.9,486.8 762.3,486.9 762.7,487.0 763.1,487.2 763.5,487.4 763.9,487.6 764.3,487.9 764.7,488.2 765.2,488.5 765.6,488.8 766.0,489.2 766.4,489.7 766.8,490.1 767.2,490.6 767.6,491.1 768.0,491.7 768.4,492.3 768.9,492.9 769.3,493.5 769.7,494.2 770.1,495.0 770.5,495.7 770.9,496.5 771.3,497.3 771.7,498.2 772.2,499.1 772.6,500.0 773.0,501.0 773.4,502.0 773.6,502.5 773.8,503.0 774.0,503.5 774.2,504.1 774.4,504.6 774.6,505.2 774.8,505.7 775.0,506.3 775.2,506.9 775.4,507.5 775.7,508.1 775.9,508.7 776.1,509.3 776.3,510.0 776.5,510.6 776.7,511.3 776.9,511.9 777.1,512.6 777.3,513.3 777.5,514.0 777.7,514.7 777.9,515.4 778.1,516.1 778.3,516.9 778.5,517.6 778.7,518.3 778.9,519.1 779.1,519.9 779.4,520.7 779.6,521.5 779.8,522.3 780.0,523.1 780.2,523.9 780.4,524.8 780.6,525.6 780.8,526.5 781.0,527.4 781.2,528.2 781.4,529.1 781.6,530.1 781.8,531.0 782.0,531.9 782.2,532.9 782.4,533.8 782.6,534.8 782.9,535.8 783.1,536.8 783.3,537.8 783.5,538.8 783.7,539.8 783.9,540.9 784.1,541.9 784.3,543.0 784.5,544.1 784.7,545.2 784.9,546.3 785.1,547.4 785.3,548.6 785.5,549.7 785.7,550.9 785.9,552.1 786.1,553.3 786.4,554.5 786.6,555.7 786.8,557.0 787.0,558.3 787.2,559.5 787.4,560.8 787.6,562.1 787.8,563.5 788.0,564.8 788.2,566.2 788.4,567.6 788.6,569.0 788.8,570.4 789.0,571.8 789.2,573.3 789.4,574.7 789.6,576.2 789.8,577.7 790.1,579.3 790.3,580.8 790.5,582.4 790.7,584.0 790.9,585.6 791.1,587.2 791.3,588.9 791.5,590.5 791.7,592.2 791.9,594.0 792.1,595.7 792.3,597.5 792.5,599.3 792.7,601.1 792.9,602.9 793.1,604.8 793.3,606.7 793.6,608.6 793.8,610.6 794.0,612.6 794.2,614.6 794.4,616.6 794.6,618.7 794.8,620.8 795.0,622.9 795.2,625.0 795.4,627.2 795.6,629.5 795.8,631.7 796.0,634.0 796.2,636.4 796.4,638.7 796.6,641.1 796.8,643.6 797.1,646.1 797.3,648.6 797.5,651.2 797.7,653.8 797.9,656.4 798.1,659.1 798.3,661.9 798.5,664.7 798.7,667.6 798.9,670.5 799.1,673.4 799.3,676.4 799.5,679.5 799.7,682.6 799.9,685.8 800.1,689.1 800.3,692.4 800.5,695.8 800.8,699.3 801.0,702.8 801.2,706.4 801.4,710.1 801.6,713.9 801.8,717.7 802.0,721.7 802.2,725.7 802.4,729.9 802.6,734.1 802.8,738.5 803.0,743.0 803.2,747.6 803.4,752.3 803.6,757.1 803.8,762.1 804.0,767.2 804.3,772.5 804.5,778.0 804.7,783.6 804.9,789.4 805.0,792.6 805.1,795.4 805.3,801.7 805.5,808.1 805.5,809.3 805.7,814.8 805.9,821.7 806.0,826.1 806.1,829.0 806.3,836.5 806.5,842.9 806.5,844.4 806.7,852.6 806.9,859.7 806.9,861.3 807.1,870.3 807.3,876.6 807.3,879.9 807.5,890.0 807.6,893.4 807.8,900.6 807.9,910.3 808.0,912.0 808.2,924.1 808.2,927.2 808.4,937.1 808.5,944.0 808.6,951.1 808.7,960.9 808.8,966.2 808.9,977.8 809.0,982.7 809.1,994.7 809.2,1000.9 809.3,1011.6 809.4,1021.1 809.5,1028.5 809.6,1043.9 809.6,1045.4 809.8,1062.3 809.8,1069.8 809.9,1079.2 810.0,1096.1 810.0,1100.1 810.1,1113.0 810.2,1129.9 810.2,1136.5 810.3,1146.8 810.3,1163.8 810.4,1180.7 810.4,1182.0 810.5,1197.6 810.5,1214.5 810.6,1230.0 810.9,1230.0 811.1,1230.0 811.4,1230.0 811.6,1229.9 811.7,1214.5 811.8,1197.6 811.9,1185.1 811.9,1180.7 811.9,1163.8 812.0,1146.9 812.1,1139.0 812.1,1130.0 812.2,1113.1 812.3,1102.1 812.3,1096.2 812.4,1079.3 812.5,1071.5 812.5,1062.3 812.7,1045.4 812.8,1028.6 812.9,1022.5 813.0,1011.7 813.1,1002.1 813.2,994.8 813.3,983.8 813.4,977.9 813.5,967.2 813.6,961.0 813.7,952.0 813.8,944.1 813.9,938.0 814.1,927.2 814.1,924.9 814.3,912.8 814.3,910.4 814.5,901.4 814.7,893.5 814.7,890.7 814.9,880.6 815.0,876.7 815.1,871.0 815.3,861.9 815.4,859.9 815.5,853.3 815.7,845.0 815.8,843.0 815.9,837.1 816.1,829.6 816.2,826.2 816.3,822.3 816.6,815.3 816.7,809.5 816.8,808.6 817.0,802.2 817.2,796.0 817.3,792.7 817.4,789.9 817.6,784.1 817.8,778.5 818.0,773.0 818.2,767.7 818.4,762.6 818.6,757.6 818.8,752.7 819.0,748.0 819.2,743.4 819.4,739.0 819.6,734.6 819.8,730.3 820.0,726.2 820.2,722.1 820.4,718.2 820.6,714.3 820.8,710.5 821.0,706.8 821.2,703.2 821.5,699.7 821.7,696.2 821.9,692.8 822.1,689.5 822.3,686.2 822.5,683.0 822.7,679.9 822.9,676.8 823.1,673.8 823.3,670.8 823.5,667.9 823.7,665.1 823.9,662.2 824.1,659.5 824.3,656.8 824.5,654.1 824.7,651.5 824.9,648.9 825.1,646.4 825.3,643.9 825.5,641.4 825.7,639.0 825.9,636.6 826.1,634.3 826.4,632.0 826.6,629.7 826.8,627.5 827.0,625.3 827.2,623.1 827.4,620.9 827.6,618.8 827.8,616.8 828.0,614.7 828.2,612.7 828.4,610.7 828.6,608.7 828.8,606.8 829.0,604.9 829.2,603.0 829.4,601.1 829.6,599.3 829.8,597.5 830.0,595.7 830.2,593.9 830.4,592.2 830.6,590.5 830.8,588.8 831.1,587.1 831.3,585.5 831.5,583.8 831.7,582.2 831.9,580.6 832.1,579.1 832.3,577.5 832.5,576.0 832.7,574.5 832.9,573.0 833.1,571.5 833.3,570.0 833.5,568.6 833.7,567.2 833.9,565.7 834.1,564.4 834.3,563.0 834.5,561.6 834.7,560.3 834.9,559.0 835.1,557.6 835.3,556.3 835.5,555.1 835.7,553.8 836.0,552.5 836.2,551.3 836.4,550.1 836.6,548.9 836.8,547.7 837.0,546.5 837.2,545.3 837.4,544.2 837.6,543.0 837.8,541.9 838.0,540.8 838.2,539.7 838.4,538.6 838.6,537.5 838.8,536.5 839.0,535.4 839.2,534.4 839.4,533.3 839.6,532.3 839.8,531.3 840.0,530.3 840.2,529.3 840.4,528.4 840.7,527.4 840.9,526.4 841.1,525.5 841.3,524.6 841.5,523.7 841.7,522.7 841.9,521.9 842.1,521.0 842.3,520.1 842.5,519.2 842.7,518.4 842.9,517.5 843.1,516.7 843.3,515.8 843.5,515.0 843.7,514.2 843.9,513.4 844.1,512.6 844.3,511.8 844.5,511.1 844.7,510.3 844.9,509.5 845.1,508.8 845.3,508.1 845.6,507.3 845.8,506.6 846.0,505.9 846.2,505.2 846.4,504.5 846.6,503.8 846.8,503.1 847.0,502.5 847.2,501.8 847.4,501.1 847.6,500.5 847.8,499.9 848.0,499.2 848.2,498.6 848.4,498.0 848.6,497.4 848.8,496.8 849.0,496.2 849.2,495.6 849.4,495.0 849.6,494.5 849.8,493.9 850.0,493.3 850.3,492.8 850.5,492.3 850.7,491.7 850.9,491.2 851.1,490.7 851.3,490.2 851.5,489.7 851.9,488.7 852.3,487.7 852.7,486.8 853.1,485.9 853.5,485.0 853.9,484.1 854.3,483.3 854.7,482.5 855.2,481.7 855.6,481.0 856.0,480.3 856.4,479.6 856.8,478.9 857.2,478.2 857.6,477.6 858.0,477.0 858.4,476.4 858.8,475.9 859.2,475.3 859.6,474.8 860.1,474.3 860.5,473.9 860.9,473.4 861.3,473.0 861.7,472.6 862.1,472.3 862.5,471.9 862.9,471.6 863.3,471.3 863.7,471.0 864.1,470.7 864.5,470.5 865.0,470.3 865.4,470.1 865.8,469.9 866.2,469.8 866.6,469.6 867.0,469.5 867.4,469.4 867.8,469.4 868.2,469.3 868.6,469.3 869.0,469.3 869.5,469.3 869.9,469.3 870.3,469.4 870.7,469.5 871.1,469.6 871.5,469.8 871.9,469.9 872.3,470.1 872.7,470.3 873.1,470.5 873.5,470.8 873.9,471.0 874.4,471.3 874.8,471.6 875.2,471.9 875.6,472.3 876.0,472.7 876.4,473.1 876.8,473.5 877.2,473.9 877.6,474.4 878.0,474.9 878.4,475.4 878.8,475.9 879.3,476.4 879.7,477.0 880.1,477.6 880.5,478.2 880.9,478.9 881.3,479.5 881.7,480.2 882.1,480.9 882.5,481.6 882.9,482.4 883.3,483.2 883.7,484.0 884.2,484.8 884.6,485.7 885.0,486.6 885.4,487.5 885.8,488.4 886.2,489.3 886.6,490.3 887.0,491.3 887.2,491.8 887.4,492.4 887.6,492.9 887.8,493.4 888.0,494.0 888.2,494.5 888.4,495.1 888.7,495.6 888.9,496.2 889.1,496.8 889.3,497.3 889.5,497.9 889.7,498.5 889.9,499.1 890.1,499.7 890.3,500.4 890.5,501.0 890.7,501.6 890.9,502.2 891.1,502.9 891.3,503.5 891.5,504.2 891.7,504.9 891.9,505.5 892.1,506.2 892.3,506.9 892.5,507.6 892.7,508.3 892.9,509.0 893.1,509.8 893.3,510.5 893.6,511.2 893.8,512.0 894.0,512.7 894.2,513.5 894.4,514.3 894.6,515.1 894.8,515.8 895.0,516.6 895.2,517.4 895.4,518.3 895.6,519.1 895.8,519.9 896.0,520.8 896.2,521.6 896.4,522.5 896.6,523.3 896.8,524.2 897.0,525.1 897.2,526.0 897.4,526.9 897.6,527.8 897.8,528.7 898.0,529.7 898.2,530.6 898.5,531.6 898.7,532.5 898.9,533.5 899.1,534.5 899.3,535.5 899.5,536.5 899.7,537.5 899.9,538.5 900.1,539.6 900.3,540.6 900.5,541.7 900.7,542.8 900.9,543.8 901.1,544.9 901.3,546.0 901.5,547.2 901.7,548.3 901.9,549.4 902.1,550.6 902.3,551.8 902.5,552.9 902.7,554.1 902.9,555.3 903.2,556.6 903.4,557.8 903.6,559.0 903.8,560.3 904.0,561.6 904.2,562.9 904.4,564.2 904.6,565.5 904.8,566.8 905.0,568.2 905.2,569.5 905.4,570.9 905.6,572.3 905.8,573.7 906.0,575.1 906.2,576.6 906.4,578.0 906.6,579.5 906.8,581.0 907.0,582.5 907.2,584.0 907.4,585.5 907.6,587.1 907.8,588.7 908.1,590.3 908.3,591.9 908.5,593.5 908.7,595.2 908.9,596.9 909.1,598.6 909.3,600.3 909.5,602.0 909.7,603.8 909.9,605.6 910.1,607.4 910.3,609.2 910.5,611.1 910.7,612.9 910.9,614.8 911.1,616.8 911.3,618.7 911.5,620.7 911.7,622.7 911.9,624.7 912.1,626.8 912.3,628.9 912.5,631.0 912.8,633.1 913.0,635.3 913.2,637.5 913.4,639.8 913.6,642.0 913.8,644.4 914.0,646.7 914.2,649.1 914.4,651.5 914.6,653.9 914.8,656.4 915.0,659.0 915.2,661.5 915.4,664.1 915.6,666.8 915.8,669.5 916.0,672.2 916.2,675.0 916.4,677.9 916.6,680.8 916.8,683.7 917.0,686.7 917.2,689.7 917.4,692.8 917.7,696.0 917.9,699.2 918.1,702.5 918.3,705.9 918.5,709.3 918.7,712.8 918.9,716.4 919.1,720.0 919.3,723.7 919.5,727.5 919.7,731.4 919.9,735.4 920.1,739.4 920.3,743.6 920.5,747.9 920.7,752.2 920.9,756.7 921.1,761.3 921.3,766.1 921.5,770.9 921.7,775.9 921.9,781.1 922.1,786.4 922.4,791.8 922.6,797.5 922.8,803.3 922.9,807.0 923.0,809.3 923.2,815.5 923.4,822.0 923.4,823.8 923.6,828.7 923.8,835.6 923.9,840.7 924.0,842.8 924.2,850.4 924.4,857.5 924.4,858.2 924.6,866.4 924.8,874.4 924.8,875.1 925.0,884.1 925.2,891.2 925.2,893.6 925.4,903.7 925.5,908.1 925.6,914.3 925.8,925.0 925.8,925.6 926.0,937.6 926.1,941.9 926.2,950.5 926.4,958.8 926.4,964.4 926.6,975.7 926.6,979.5 926.8,992.6 926.8,995.9 927.0,1009.5 927.0,1013.9 927.2,1026.4 927.3,1033.9 927.3,1043.3 927.5,1056.4 927.5,1060.2 927.6,1077.2 927.7,1082.0 927.7,1094.1 927.9,1111.0 927.9,1111.9 928.0,1127.9 928.1,1144.8 928.1,1147.6 928.1,1161.7 928.2,1178.6 928.3,1192.0 928.3,1195.6 928.4,1212.5 928.4,1228.6 928.7,1228.6 928.9,1228.6 929.2,1228.6 929.4,1228.6 929.7,1212.5 929.7,1205.2 929.7,1195.6 929.8,1178.7 929.9,1161.8 929.9,1157.9 930.0,1144.9 930.1,1128.0 930.1,1120.3 930.2,1111.1 930.3,1094.2 930.3,1089.2 930.4,1077.3 930.5,1062.7 930.5,1060.4 930.7,1043.5 930.7,1039.5 930.9,1026.6 930.9,1019.0 931.0,1009.7 931.1,1000.5 931.2,992.9 931.3,983.7 931.4,976.0 931.5,968.4 931.7,959.1 931.7,954.3 931.9,942.2 932.0,941.1 932.2,928.9 932.2,925.4 932.4,917.5 932.5,908.5 932.6,906.7 932.8,896.5 932.9,891.7 933.0,886.9 933.2,877.8 933.2,874.8 933.4,869.1 933.6,860.8 933.7,858.0 933.8,852.8 934.0,845.3 934.1,841.2 934.2,838.0 934.4,831.0 934.6,824.5 934.8,817.8 935.0,811.5 935.1,807.7 935.2,805.5 935.4,799.6 935.7,794.0 935.9,788.5 936.1,783.2 936.3,778.0 936.5,773.0 936.7,768.1 936.9,763.4 937.1,758.8 937.4,754.3 937.6,749.9 937.8,745.6 938.0,741.5 938.2,737.4 938.4,733.4 938.6,729.5 938.8,725.7 939.1,722.0 939.3,718.4 939.5,714.8 939.7,711.3 939.9,707.9 940.1,704.6 940.3,701.3 940.5,698.1 940.8,694.9 941.0,691.8 941.2,688.8 941.4,685.8 941.6,682.8 941.8,680.0 942.0,677.1 942.2,674.4 942.5,671.6 942.7,668.9 942.9,666.3 943.1,663.7 943.3,661.1 943.5,658.6 943.7,656.1 943.9,653.7 944.2,651.3 944.4,648.9 944.6,646.6 944.8,644.3 945.0,642.0 945.2,639.8 945.4,637.6 945.6,635.4 945.9,633.3 946.1,631.2 946.3,629.1 946.5,627.1 946.7,625.1 946.9,623.1 947.1,621.1 947.3,619.2 947.6,617.3 947.8,615.4 948.0,613.5 948.2,611.7 948.4,609.9 948.6,608.1 948.8,606.3 949.0,604.5 949.3,602.8 949.5,601.1 949.7,599.4 949.9,597.8 950.1,596.1 950.3,594.5 950.5,592.9 950.7,591.3 951.0,589.8 951.2,588.2 951.4,586.7 951.6,585.2 951.8,583.7 952.0,582.2 952.2,580.8 952.4,579.3 952.7,577.9 952.9,576.5 953.1,575.1 953.3,573.7 953.5,572.4 953.7,571.0 953.9,569.7 954.1,568.4 954.4,567.1 954.6,565.8 954.8,564.5 955.0,563.2 955.2,562.0 955.4,560.8 955.6,559.5 955.8,558.3 956.1,557.2 956.3,556.0 956.5,554.8 956.7,553.7 956.9,552.5 957.1,551.4 957.3,550.3 957.5,549.2 957.8,548.1 958.0,547.0 958.2,545.9 958.4,544.9 958.6,543.8 958.8,542.8 959.0,541.8 959.2,540.7 959.5,539.7 959.7,538.7 959.9,537.8 960.1,536.8 960.3,535.8 960.5,534.9 960.7,533.9 960.9,533.0 961.2,532.1 961.4,531.2 961.6,530.3 961.8,529.4 962.0,528.5 962.2,527.6 962.4,526.8 962.6,525.9 962.9,525.1 963.1,524.2 963.3,523.4 963.5,522.6 963.7,521.8 963.9,521.0 964.1,520.2 964.3,519.4 964.6,518.6 964.8,517.8 965.0,517.1 965.2,516.3 965.4,515.6 965.6,514.9 965.8,514.1 966.0,513.4 966.3,512.7 966.5,512.0 966.7,511.3 966.9,510.6 967.1,509.9 967.3,509.3 967.5,508.6 967.7,507.9 968.0,507.3 968.2,506.7 968.4,506.0 968.6,505.4 968.8,504.8 969.0,504.2 969.2,503.6 969.4,503.0 969.7,502.4 969.9,501.8 970.1,501.2 970.3,500.6 970.5,500.1 970.7,499.5 970.9,499.0 971.1,498.4 971.4,497.9 971.6,497.3 971.8,496.8 972.0,496.3 972.2,495.8 972.4,495.3 972.8,494.3 973.3,493.3 973.7,492.4 974.1,491.5 974.5,490.6 974.9,489.7 975.3,488.9 975.7,488.1 976.1,487.3 976.5,486.5 977.0,485.8 977.4,485.0 977.8,484.3 978.2,483.7 978.6,483.0 979.0,482.4 979.4,481.8 979.8,481.2 980.2,480.6 980.6,480.1 981.0,479.5 981.4,479.0 981.9,478.6 982.3,478.1 982.7,477.7 983.1,477.3 983.5,476.9 983.9,476.5 984.3,476.1 984.7,475.8 985.1,475.5 985.5,475.2 985.9,474.9 986.4,474.7 986.8,474.5 987.2,474.3 987.6,474.1 988.0,473.9 988.4,473.8 988.8,473.6 989.2,473.5 989.6,473.4 990.0,473.4 990.3,473.3 990.7,473.3 991.1,473.3 991.4,473.3 991.8,473.3 992.2,473.4 992.5,473.4 992.9,473.5 993.3,473.6 993.7,473.8 994.0,473.9 994.4,474.1 994.8,474.3 995.1,474.5 995.5,474.7 995.9,474.9 996.2,475.2 996.6,475.5 997.0,475.8 997.3,476.1 997.7,476.5 998.1,476.9 998.4,477.3 998.8,477.7 999.2,478.1 999.5,478.6 999.9,479.1 1000.3,479.6 1000.6,480.1 1001.0,480.6 1001.4,481.2 1001.7,481.8 1002.1,482.4 1002.5,483.0 1002.8,483.7 1003.2,484.4 1003.6,485.1 1004.1,485.8 1004.5,486.5 1004.9,487.3 1005.3,488.1 1005.7,488.9 1006.1,489.8 1006.5,490.7 1006.9,491.6 1007.3,492.5 1007.7,493.4 1008.1,494.4 1008.5,495.4 1008.7,495.9 1009.0,496.4 1009.2,496.9 1009.4,497.5 1009.6,498.0 1009.8,498.5 1010.0,499.1 1010.2,499.6 1010.4,500.2 1010.6,500.8 1010.8,501.4 1011.0,501.9 1011.2,502.5 1011.4,503.1 1011.6,503.7 1011.8,504.4 1012.0,505.0 1012.2,505.6 1012.4,506.2 1012.6,506.9 1012.8,507.5 1013.0,508.2 1013.2,508.9 1013.4,509.5 1013.7,510.2 1013.9,510.9 1014.1,511.6 1014.3,512.3 1014.5,513.0 1014.7,513.7 1014.9,514.5 1015.1,515.2 1015.3,515.9 1015.5,516.7 1015.7,517.5 1015.9,518.2 1016.1,519.0 1016.3,519.8 1016.5,520.6 1016.7,521.4 1016.9,522.2 1017.1,523.0 1017.3,523.9 1017.5,524.7 1017.7,525.6 1017.9,526.4 1018.1,527.3 1018.3,528.2 1018.6,529.0 1018.8,529.9 1019.0,530.9 1019.2,531.8 1019.4,532.7 1019.6,533.6 1019.8,534.6 1020.0,535.5 1020.2,536.5 1020.4,537.5 1020.6,538.5 1020.8,539.5 1021.0,540.5 1021.2,541.5 1021.4,542.5 1021.6,543.6 1021.8,544.6 1022.0,545.7 1022.2,546.8 1022.4,547.9 1022.6,549.0 1022.8,550.1 1023.0,551.2 1023.3,552.4 1023.5,553.5 1023.7,554.7 1023.9,555.9 1024.1,557.1 1024.3,558.3 1024.5,559.5 1024.7,560.7 1024.9,562.0 1025.1,563.2 1025.3,564.5 1025.5,565.8 1025.7,567.1 1025.9,568.4 1026.1,569.7 1026.3,571.1 1026.5,572.4 1026.7,573.8 1026.9,575.2 1027.1,576.6 1027.3,578.1 1027.5,579.5 1027.7,581.0 1027.9,582.4 1028.2,583.9 1028.4,585.5 1028.6,587.0 1028.8,588.5 1029.0,590.1 1029.2,591.7 1029.4,593.3 1029.6,594.9 1029.8,596.6 1030.0,598.2 1030.2,599.9 1030.4,601.6 1030.6,603.4 1030.8,605.1 1031.0,606.9 1031.2,608.7 1031.4,610.5 1031.6,612.4 1031.8,614.3 1032.0,616.2 1032.2,618.1 1032.4,620.0 1032.6,622.0 1032.9,624.0 1033.1,626.0 1033.3,628.1 1033.5,630.2 1033.7,632.3 1033.9,634.4 1034.1,636.6 1034.3,638.8 1034.5,641.1 1034.7,643.4 1034.9,645.7 1035.1,648.0 1035.3,650.4 1035.5,652.8 1035.7,655.3 1035.9,657.8 1036.1,660.3 1036.3,662.9 1036.5,665.5 1036.7,668.2 1036.9,670.9 1037.1,673.6 1037.3,676.4 1037.5,679.3 1037.8,682.2 1038.0,685.2 1038.2,688.2 1038.4,691.2 1038.6,694.4 1038.8,697.6 1039.0,700.8 1039.2,704.1 1039.4,707.5 1039.6,710.9 1039.8,714.5 1040.0,718.1 1040.2,721.7 1040.4,725.5 1040.6,729.3 1040.8,733.3 1041.0,737.3 1041.2,741.4 1041.4,745.6 1041.6,750.0 1041.8,754.4 1042.0,758.9 1042.2,763.6 1042.5,768.4 1042.7,773.3 1042.9,778.4 1043.1,783.7 1043.3,789.0 1043.5,794.6 1043.7,800.4 1043.9,806.1 1044.1,812.4 1044.3,818.8 1044.4,822.9 1044.5,825.4 1044.7,832.2 1044.9,839.3 1045.1,846.7 1045.3,854.5 1045.4,856.5 1045.5,862.6 1045.7,871.0 1045.8,873.4 1045.9,879.9 1046.1,889.2 1046.1,890.2 1046.3,899.1 1046.5,907.1 1046.5,909.5 1046.7,920.6 1046.8,924.0 1046.9,932.3 1047.1,940.8 1047.1,944.9 1047.3,957.7 1047.4,958.4 1047.6,973.1 1047.6,974.6 1047.8,988.9 1047.8,991.5 1048.0,1006.4 1048.0,1008.4 1048.2,1025.3 1048.3,1042.2 1048.4,1047.2 1048.5,1059.1 1048.6,1071.6 1048.6,1076.0 1048.7,1092.9 1048.8,1099.8 1048.8,1109.8 1048.9,1126.8 1049.0,1133.3 1049.0,1143.7 1049.1,1160.6 1049.2,1174.2 1049.2,1177.5 1049.3,1194.4 1049.3,1211.3 1049.4,1227.1 1049.7,1227.2 1049.9,1227.2 1050.2,1227.2 1050.4,1227.2 1050.6,1223.7 1050.7,1211.4 1050.7,1194.5 1050.8,1177.5 1050.8,1171.7 1050.9,1160.6 1051.0,1143.7 1051.0,1131.3 1051.1,1126.8 1051.2,1109.9 1051.2,1098.2 1051.3,1093.0 1051.4,1076.1 1051.4,1070.2 1051.5,1059.2 1051.6,1046.0 1051.7,1042.3 1051.8,1025.4 1051.8,1024.6 1052.0,1008.5 1052.1,1005.5 1052.2,991.7 1052.3,988.2 1052.4,974.8 1052.5,972.4 1052.7,957.9 1052.9,944.4 1052.9,941.0 1053.1,931.8 1053.2,924.2 1053.3,920.1 1053.5,909.1 1053.5,907.3 1053.7,898.8 1053.9,890.5 1053.9,889.0 1054.1,879.7 1054.2,873.6 1054.3,870.8 1054.5,862.4 1054.6,856.8 1054.7,854.4 1054.9,846.7 1055.1,840.0 1055.1,839.3 1055.3,832.2 1055.5,825.4 1055.6,823.3 1055.7,818.8 1055.9,812.5 1056.1,806.5 1056.3,800.5 1056.5,794.7 1056.7,789.2 1057.0,783.8 1057.2,778.6 1057.4,773.6 1057.6,768.7 1057.8,763.9 1058.0,759.2 1058.2,754.7 1058.4,750.3 1058.6,746.0 1058.8,741.8 1059.0,737.7 1059.2,733.7 1059.4,729.8 1059.6,726.0 1059.8,722.3 1060.0,718.6 1060.2,715.0 1060.4,711.5 1060.6,708.1 1060.8,704.7 1061.0,701.4 1061.2,698.2 1061.4,695.1 1061.6,692.0 1061.9,688.9 1062.1,685.9 1062.3,683.0 1062.5,680.1 1062.7,677.3 1062.9,674.5 1063.1,671.8 1063.3,669.1 1063.5,666.4 1063.7,663.8 1063.9,661.3 1064.1,658.8 1064.3,656.3 1064.5,653.9 1064.7,651.5 1064.9,649.1 1065.1,646.8 1065.3,644.5 1065.5,642.3 1065.7,640.1 1065.9,637.9 1066.1,635.7 1066.3,633.6 1066.6,631.5 1066.8,629.5 1067.0,627.4 1067.2,625.4 1067.4,623.5 1067.6,621.5 1067.8,619.6 1068.0,617.7 1068.2,615.8 1068.4,614.0 1068.6,612.2 1068.8,610.4 1069.0,608.6 1069.2,606.9 1069.4,605.2 1069.6,603.5 1069.8,601.8 1070.0,600.1 1070.2,598.5 1070.4,596.9 1070.6,595.3 1070.8,593.7 1071.0,592.2 1071.2,590.7 1071.5,589.1 1071.7,587.6 1071.9,586.2 1072.1,584.7 1072.3,583.3 1072.5,581.9 1072.7,580.5 1072.9,579.1 1073.1,577.7 1073.3,576.4 1073.5,575.0 1073.7,573.7 1073.9,572.4 1074.1,571.1 1074.3,569.8 1074.5,568.6 1074.7,567.3 1074.9,566.1 1075.1,564.9 1075.3,563.7 1075.5,562.5 1075.7,561.4 1075.9,560.2 1076.2,559.1 1076.4,557.9 1076.6,556.8 1076.8,555.7 1077.0,554.6 1077.2,553.6 1077.4,552.5 1077.6,551.5 1077.8,550.4 1078.0,549.4 1078.2,548.4 1078.4,547.4 1078.6,546.4 1078.8,545.4 1079.0,544.5 1079.2,543.5 1079.4,542.6 1079.6,541.7 1079.8,540.8 1080.0,539.9 1080.2,539.0 1080.4,538.1 1080.6,537.2 1080.8,536.4 1081.1,535.5 1081.3,534.7 1081.5,533.8 1081.7,533.0 1081.9,532.2 1082.1,531.4 1082.3,530.6 1082.5,529.9 1082.7,529.1 1082.9,528.3 1083.1,527.6 1083.3,526.9 1083.5,526.1 1083.7,525.4 1083.9,524.7 1084.1,524.0 1084.3,523.3 1084.5,522.7 1084.7,522.0 1084.9,521.3 1085.1,520.7 1085.3,520.0 1085.5,519.4 1085.8,518.8 1086.0,518.2 1086.2,517.6 1086.4,517.0 1086.6,516.4 1086.8,515.8 1087.0,515.2 1087.2,514.7 1087.4,514.1 1087.6,513.6 1087.8,513.1 1088.0,512.5 1088.2,512.0 1088.4,511.5 1088.8,510.5 1089.2,509.6 1089.6,508.6 1090.0,507.8 1090.4,506.9 1090.9,506.1 1091.3,505.3 1091.7,504.5 1092.1,503.8 1092.5,503.1 1092.9,502.4 1093.3,501.8 1093.7,501.2 1094.1,500.6 1094.5,500.1 1094.9,499.6 1095.4,499.1 1095.8,498.7 1096.2,498.2 1096.6,497.9 1097.0,497.5 1097.4,497.2 1097.8,496.9 1098.2,496.6 1098.6,496.4 1099.0,496.2 1099.4,496.0 1099.8,495.9 1100.3,495.8 1100.7,495.7 1101.1,495.6 1101.5,495.6 1101.9,495.6 1102.3,495.7 1102.7,495.8 1103.1,495.9 1103.5,496.0 1103.9,496.2 1104.3,496.5 1104.7,496.7 1105.2,497.0 1105.6,497.3 1106.0,497.7 1106.4,498.0 1106.8,498.5 1107.2,498.9 1107.6,499.4 1108.0,499.9 1108.4,500.5 1108.8,501.0 1109.2,501.7 1109.6,502.3 1110.1,503.0 1110.5,503.7 1110.9,504.5 1111.3,505.3 1111.7,506.2 1112.1,507.0 1112.5,507.9 1112.9,508.9 1113.3,509.9 1113.5,510.4 1113.7,510.9 1113.9,511.5 1114.1,512.0 1114.3,512.6 1114.6,513.1 1114.8,513.7 1115.0,514.3 1115.2,514.9 1115.4,515.5 1115.6,516.1 1115.8,516.8 1116.0,517.4 1116.2,518.1 1116.4,518.7 1116.6,519.4 1116.8,520.1 1117.0,520.8 1117.2,521.5 1117.4,522.2 1117.6,523.0 1117.8,523.7 1118.0,524.5 1118.2,525.3 1118.4,526.1 1118.6,526.9 1118.8,527.7 1119.0,528.5 1119.2,529.3 1119.5,530.2 1119.7,531.0 1119.9,531.9 1120.1,532.8 1120.3,533.7 1120.5,534.7 1120.7,535.6 1120.9,536.5 1121.1,537.5 1121.3,538.5 1121.5,539.5 1121.7,540.5 1121.9,541.5 1122.1,542.6 1122.3,543.6 1122.5,544.7 1122.7,545.8 1122.9,546.9 1123.1,548.0 1123.3,549.2 1123.5,550.3 1123.7,551.5 1123.9,552.7 1124.2,553.9 1124.4,555.1 1124.6,556.4 1124.8,557.6 1125.0,558.9 1125.2,560.2 1125.4,561.6 1125.6,562.9 1125.8,564.3 1126.0,565.7 1126.2,567.1 1126.4,568.5 1126.6,570.0 1126.8,571.5 1127.0,573.0 1127.2,574.5 1127.4,576.0 1127.6,577.6 1127.8,579.2 1128.0,580.8 1128.2,582.5 1128.4,584.1 1128.6,585.8 1128.8,587.6 1129.1,589.3 1129.3,591.1 1129.5,592.9 1129.7,594.8 1129.9,596.6 1130.1,598.6 1130.3,600.5 1130.5,602.5 1130.7,604.5 1130.9,606.5 1131.1,608.6 1131.3,610.7 1131.5,612.8 1131.7,615.0 1131.9,617.2 1132.1,619.5 1132.3,621.8 1132.5,624.2 1132.7,626.5 1132.9,629.0 1133.1,631.5 1133.3,634.0 1133.5,636.6 1133.8,639.2 1134.0,641.9 1134.2,644.6 1134.4,647.4 1134.6,650.2 1134.8,653.1 1135.0,656.1 1135.2,659.1 1135.4,662.2 1135.6,665.4 1135.8,668.6 1136.0,671.9 1136.2,675.3 1136.4,678.7 1136.6,682.2 1136.8,685.9 1137.0,689.6 1137.2,693.4 1137.4,697.3 1137.6,701.3 1137.8,705.4 1138.0,709.6 1138.2,713.9 1138.4,718.3 1138.7,722.9 1138.9,727.6 1139.1,732.5 1139.3,737.5 1139.5,742.7 1139.7,748.0 1139.9,753.5 1140.1,759.2 1140.1,760.5 1140.3,765.1 1140.5,771.2 1140.7,776.8 1140.7,777.6 1140.9,784.2 1141.1,791.1 1141.2,793.1 1141.3,798.2 1141.5,805.7 1141.6,809.6 1141.7,813.5 1141.9,821.7 1142.0,826.1 1142.1,830.3 1142.3,839.4 1142.4,842.6 1142.5,848.9 1142.7,859.0 1142.9,869.7 1143.1,875.8 1143.1,881.2 1143.3,892.4 1143.4,893.4 1143.6,906.5 1143.6,909.1 1143.8,920.7 1143.8,925.8 1144.0,936.1 1144.0,942.6 1144.2,952.9 1144.2,959.3 1144.4,971.5 1144.4,976.1 1144.6,992.3 1144.6,992.8 1144.7,1009.6 1144.8,1015.8 1144.9,1026.4 1145.0,1042.9 1145.1,1060.1 1145.2,1074.7 1145.2,1076.9 1145.3,1093.8 1145.4,1110.6 1145.4,1113.4 1145.5,1127.5 1145.5,1144.3 1145.6,1161.2 1145.6,1162.7 1145.7,1178.1 1145.7,1194.9 1145.8,1211.8 1145.8,1226.4 1146.1,1226.4 1146.3,1226.4 1146.6,1226.4 1146.8,1211.1 1146.8,1194.2 1146.8,1188.0 1146.9,1177.2 1146.9,1160.3 1147.0,1143.3 1147.0,1131.9 1147.1,1126.4 1147.1,1109.4 1147.2,1092.4 1147.2,1089.0 1147.3,1075.5 1147.4,1058.5 1147.4,1054.3 1147.5,1041.5 1147.6,1025.1 1147.6,1024.5 1147.8,1007.5 1147.8,999.9 1147.9,990.5 1148.0,977.7 1148.1,973.5 1148.3,957.9 1148.3,956.5 1148.5,940.1 1148.5,939.5 1148.7,923.8 1148.7,922.5 1148.9,908.9 1148.9,905.5 1149.1,895.0 1149.2,888.5 1149.3,882.2 1149.5,871.4 1149.5,870.1 1149.7,858.9 1149.8,854.4 1149.9,848.2 1150.1,838.2 1150.1,837.3 1150.3,828.6 1150.5,820.3 1150.5,819.6 1150.7,810.9 1150.9,803.2 1150.9,802.7 1151.1,794.8 1151.3,787.2 1151.3,786.2 1151.5,779.9 1151.7,773.0 1151.8,769.2 1151.9,766.2 1152.1,759.7 1152.3,753.5 1152.4,752.2 1152.5,747.4 1152.7,741.6 1152.9,735.9 1153.2,730.4 1153.4,725.0 1153.6,719.8 1153.8,714.8 1154.0,709.9 1154.2,705.1 1154.4,700.5 1154.6,696.0 1154.8,691.6 1155.0,687.3 1155.2,683.1 1155.4,679.0 1155.6,675.0 1155.8,671.1 1156.0,667.2 1156.2,663.5 1156.4,659.8 1156.6,656.2 1156.8,652.7 1157.0,649.3 1157.2,645.9 1157.4,642.6 1157.6,639.4 1157.9,636.2 1158.1,633.1 1158.3,630.1 1158.5,627.1 1158.7,624.1 1158.9,621.2 1159.1,618.4 1159.3,615.6 1159.5,612.9 1159.7,610.2 1159.9,607.6 1160.1,605.0 1160.3,602.4 1160.5,599.9 1160.7,597.4 1160.9,595.0 1161.1,592.6 1161.3,590.3 1161.5,588.0 1161.7,585.7 1161.9,583.5 1162.1,581.3 1162.3,579.1 1162.5,577.0 1162.8,574.9 1163.0,572.8 1163.2,570.8 1163.4,568.8 1163.6,566.8 1163.8,564.9 1164.0,563.0 1164.2,561.1 1164.4,559.3 1164.6,557.5 1164.8,555.7 1165.0,553.9 1165.2,552.2 1165.4,550.4 1165.6,548.8 1165.8,547.1 1166.0,545.5 1166.2,543.9 1166.4,542.3 1166.6,540.7 1166.8,539.2 1167.0,537.7 1167.2,536.2 1167.5,534.7 1167.7,533.3 1167.9,531.8 1168.1,530.4 1168.3,529.1 1168.5,527.7 1168.7,526.4 1168.9,525.1 1169.1,523.8 1169.3,522.5 1169.5,521.2 1169.7,520.0 1169.9,518.8 1170.1,517.6 1170.3,516.4 1170.5,515.3 1170.7,514.2 1170.9,513.0 1171.1,511.9 1171.3,510.9 1171.5,509.8 1171.7,508.8 1171.9,507.8 1172.1,506.8 1172.4,505.8 1172.6,504.8 1172.8,503.9 1173.0,503.0 1173.2,502.0 1173.4,501.2 1173.6,500.3 1173.8,499.4 1174.0,498.6 1174.2,497.8 1174.4,497.0 1174.6,496.2 1174.8,495.4 1175.0,494.7 1175.2,493.9 1175.4,493.2 1175.6,492.5 1175.8,491.9 1176.0,491.2 1176.2,490.6 1176.4,489.9 1176.6,489.3 1176.8,488.7 1177.1,488.2 1177.3,487.6 1177.5,487.1 1177.7,486.5 1177.9,486.0 1178.3,485.1 1178.7,484.2 1179.1,483.4 1179.5,482.6 1179.9,481.9 1180.3,481.3 1180.7,480.8 1181.1,480.3 1181.5,479.9 1182.0,479.6 1182.4,479.4 1182.8,479.2 1183.2,479.2 1183.6,479.1 1184.0,479.2 1184.4,479.4 1184.8,479.6 1185.2,480.0 1185.6,480.4 1186.0,480.9 1186.4,481.5 1186.9,482.2 1187.3,483.0 1187.7,483.9 1188.1,484.9 1188.3,485.5 1188.5,486.0 1188.7,486.6 1188.9,487.3 1189.1,487.9 1189.3,488.6 1189.5,489.3 1189.7,490.0 1189.9,490.8 1190.1,491.6 1190.3,492.4 1190.5,493.3 1190.7,494.2 1190.9,495.2 1191.1,496.1 1191.3,497.1 1191.6,498.2 1191.8,499.3 1192.0,500.4 1192.2,501.5 1192.4,502.7 1192.6,504.0 1192.8,505.2 1193.0,506.6 1193.2,507.9 1193.4,509.4 1193.6,510.8 1193.8,512.3 1194.0,513.9 1194.2,515.5 1194.4,517.1 1194.6,518.9 1194.8,520.6 1195.0,522.5 1195.2,524.4 1195.4,526.3 1195.6,528.3 1195.8,530.4 1196.0,532.5 1196.3,534.8 1196.5,537.0 1196.7,539.4 1196.9,541.9 1197.1,544.4 1197.3,547.0 1197.5,549.7 1197.7,552.5 1197.9,555.4 1198.1,558.4 1198.3,561.5 1198.5,564.7 1198.7,568.0 1198.9,571.5 1199.1,575.0 1199.3,578.7 1199.5,582.6 1199.7,586.6 1199.9,590.8 1200.1,595.1 1200.3,599.6 1200.5,604.3 1200.6,605.3 1200.7,609.2 1200.9,614.3 1201.1,619.0 1201.2,619.7 1201.4,625.3 1201.6,631.2 1201.6,632.9 1201.8,637.3 1202.0,643.8 1202.1,647.1 1202.2,650.6 1202.4,657.8 1202.5,661.6 1202.6,665.4 1202.8,673.5 1202.9,676.3 1203.0,682.0 1203.2,691.1 1203.4,700.8 1203.5,706.3 1203.6,711.3 1203.8,721.6 1203.8,722.5 1204.0,734.6 1204.1,737.0 1204.2,747.8 1204.3,752.5 1204.4,762.2 1204.5,768.2 1204.6,778.1 1204.7,784.0 1204.8,795.7 1204.9,799.9 1205.0,815.5 1205.2,832.0 1205.2,838.0 1205.3,848.1 1205.4,864.1 1205.6,880.6 1205.6,894.9 1205.7,896.9 1205.8,913.3 1205.8,929.7 1205.9,932.7 1205.9,946.2 1206.0,962.7 1206.0,975.5 1206.3,975.5 1206.6,975.5 1206.8,975.5 1207.1,975.5 1207.4,971.9 1207.4,954.6 1207.5,942.7 1207.5,937.3 1207.6,919.9 1207.7,902.6 1207.7,898.9 1207.8,885.1 1207.9,867.7 1207.9,863.2 1208.0,850.1 1208.1,833.0 1208.2,814.9 1208.3,806.8 1208.4,797.2 1208.5,783.6 1208.5,779.4 1208.7,762.9 1208.7,761.5 1208.9,744.0 1208.9,743.5 1209.1,726.7 1209.1,725.4 1209.3,710.8 1209.4,707.2 1209.5,696.0 1209.6,688.9 1209.7,682.1 1209.9,670.5 1209.9,669.1 1210.1,656.8 1210.2,651.9 1210.3,645.1 1210.5,634.1 1210.6,633.2 1210.8,623.5 1210.9,614.3 1211.0,613.5 1211.2,603.8 1211.4,595.3 1211.4,594.6 1211.6,585.7 1211.8,577.1 1211.8,576.0 1212.0,568.8 1212.2,560.9 1212.3,556.5 1212.4,553.1 1212.6,545.6 1212.8,538.4 1212.8,536.9 1213.0,531.3 1213.2,524.4 1213.4,517.8 1213.6,511.3 1213.8,504.9 1214.0,498.7 1214.2,492.7 1214.4,486.8 1214.6,481.0 1214.8,475.4 1215.0,469.9 1215.2,464.5 1215.4,459.2 1215.6,454.0 1215.8,448.9 1216.0,443.9 1216.3,439.0 1216.5,434.1 1216.7,429.4 1216.9,424.7 1217.1,420.2 1217.3,415.7 1217.5,411.2 1217.7,406.9 1217.9,402.6 1218.1,398.4 1218.3,394.2 1218.5,390.1 1218.7,386.1 1218.9,382.1 1219.1,378.1 1219.3,374.3 1219.5,370.5 1219.7,366.7 1219.9,363.0 1220.1,359.3 1220.3,355.7 1220.5,352.1 1220.7,348.6 1220.9,345.1 1221.1,341.7 1221.3,338.3 1221.5,334.9 1221.7,331.6 1221.9,328.3 1222.1,325.1 1222.3,321.9 1222.5,318.7 1222.7,315.6 1222.9,312.5 1223.1,309.4 1223.3,306.4 1223.5,303.4 1223.7,300.5 1223.9,297.5 1224.1,294.7 1224.3,291.8 1224.5,289.0 1224.7,286.2 1224.9,283.4 1225.1,280.7 1225.3,278.0 1225.5,275.3 1225.7,272.6 1225.9,270.0 1226.1,267.4 1226.3,264.8 1226.5,262.3 1226.7,259.8 1226.9,257.3 1227.1,254.8 1227.3,252.4 1227.5,250.0 1227.7,247.6 1227.9,245.2 1228.1,242.9 1228.3,240.5 1228.5,238.2 1228.7,236.0 1228.9,233.7 1229.1,231.5 1229.3,229.3 1229.6,227.1 1229.8,225.0 1230.0,222.8 1230.2,220.7 1230.4,218.6 1230.6,216.6 1230.8,214.5 1231.0,212.5 1231.2,210.5 1231.4,208.5 1231.6,206.5 1231.8,204.6 1232.0,202.7 1232.2,200.8 1232.4,198.9 1232.6,197.0 1232.8,195.2 1233.0,193.3 1233.2,191.5 1233.4,189.7 1233.6,188.0 1233.8,186.2 1234.0,184.5 1234.2,182.8 1234.4,181.1 1234.6,179.4 1234.8,177.8 1235.0,176.1 1235.2,174.5 1235.4,172.9 1235.6,171.3 1235.8,169.8 1236.0,168.2 1236.2,166.7 1236.4,165.2 1236.6,163.7 1236.8,162.2 1237.0,160.7 1237.2,159.3 1237.4,157.8 1237.6,156.4 1237.8,155.0 1238.0,153.6 1238.2,152.3 1238.4,150.9 1238.6,149.6 1238.8,148.3 1239.0,147.0 1239.2,145.7 1239.4,144.4 1239.6,143.2 1239.8,141.9 1240.0,140.7 1240.2,139.5 1240.4,138.3 1240.6,137.1 1240.8,135.9 1241.0,134.8 1241.2,133.6 1241.4,132.5 1241.6,131.4 1241.8,130.3 1242.0,129.2 1242.2,128.1 1242.4,127.1 1242.7,126.0 1242.9,125.0 1243.1,124.0 1243.3,123.0 1243.5,122.0 1243.7,121.0 1243.9,120.0 1244.1,119.1 1244.3,118.2 1244.5,117.2 1244.7,116.3 1244.9,115.4 1245.1,114.5 1245.3,113.6 1245.5,112.8 1245.7,111.9 1245.9,111.0 1246.1,110.2 1246.3,109.4 1246.5,108.6 1246.7,107.8 1246.9,107.0 1247.1,106.2 1247.3,105.4 1247.5,104.7 1247.7,103.9 1247.9,103.2 1248.1,102.5 1248.3,101.7 1248.5,101.0 1248.7,100.3 1248.9,99.6 1249.1,99.0 1249.3,98.3 1249.5,97.6 1249.7,97.0 1249.9,96.3 1250.1,95.7 1250.3,95.1 1250.5,94.4 1250.7,93.8 1250.9,93.2 1251.1,92.7 1251.3,92.1 1251.5,91.5 1251.7,90.9 1251.9,90.4 1252.1,89.8 1252.3,89.3 1252.5,88.7 1252.7,88.2 1252.9,87.7 1253.1,87.2 1253.3,86.7 1253.7,85.7 1254.1,84.7 1254.5,83.8 1254.9,82.9 1255.3,82.0 1255.7,81.2 1256.2,80.3 1256.6,79.5 1257.0,78.8 1257.4,78.0 1257.8,77.3 1258.2,76.6 1258.6,75.9 1259.0,75.2 1259.4,74.5 1259.8,73.9 1260.2,73.3 1260.6,72.7 1261.0,72.1 1261.4,71.5 1261.8,71.0 1262.2,70.5 1262.6,69.9 1263.0,69.4 1263.4,69.0 1263.8,68.5 1264.2,68.0 1264.6,67.6 1265.0,67.1 1265.4,66.7 1265.8,66.3 1266.2,65.9 1266.6,65.5 1267.0,65.2 1267.4,64.8 1267.8,64.5 1268.2,64.1 1268.6,63.8 1269.1,63.5 1269.5,63.1 1269.9,62.8 1270.3,62.5 1270.7,62.3 1271.1,62.0 1271.5,61.7 1271.9,61.4 1272.3,61.2 1272.7,60.9 1273.1,60.7 1273.5,60.5 1273.9,60.2 1274.3,60.0 1274.7,59.8 1275.1,59.6 1275.5,59.4 1275.9,59.2 1276.3,59.0 1276.7,58.8 1277.1,58.6 1277.5,58.4 1277.9,58.3 1278.3,58.1 1278.7,57.9 1279.1,57.8 1279.5,57.6 1279.9,57.5 1280.3,57.3 1280.7,57.2 1281.1,57.1 1281.5,56.9 1281.9,56.8 1282.4,56.7 1282.8,56.5 1283.2,56.4 1283.6,56.3 1284.0,56.2 1284.4,56.1 1284.8,56.0 1285.2,55.9 1285.6,55.8 1286.0,55.7 1286.4,55.6 1286.8,55.5 1287.2,55.4 1287.6,55.3 1288.0,55.2 1288.4,55.1 1288.8,55.0 1289.2,55.0 1289.6,54.9 1290.0,54.8 1290.4,54.7 1290.8,54.6 1291.2,54.6 1291.7,54.5 1292.1,54.4 1292.5,54.4 1292.9,54.3 1293.3,54.2 1293.7,54.2 1294.1,54.1 1294.5,54.1 1294.9,54.0 1295.3,54.0 1295.7,53.9 1296.1,53.9 1296.6,53.8 1297.0,53.7 1297.4,53.7 1297.8,53.7 1298.2,53.6 1298.6,53.6 1299.0,53.5 1299.4,53.5 1299.8,53.4 1300.2,53.4 1300.6,53.4 1301.0,53.3 1301.4,53.3 1301.9,53.2 1302.3,53.2 1302.7,53.2 1303.1,53.1 1303.5,53.1 1303.9,53.1 1304.3,53.0 1304.7,53.0 1305.1,53.0 1305.5,52.9 1305.9,52.9 1306.3,52.9 1306.8,52.8 1307.2,52.8 1307.6,52.8 1308.0,52.8 1308.4,52.7 1308.8,52.7 1309.2,52.7 1309.6,52.7 1310.0,52.6 1310.4,52.6 1310.8,52.6 1311.2,52.6 1311.7,52.6 1312.1,52.5 1312.5,52.5 1312.9,52.5 1313.3,52.5 1313.7,52.5 1314.1,52.4 1314.5,52.4 1314.9,52.4 1315.3,52.4 1315.7,52.4 1316.1,52.4 1316.6,52.3 1317.0,52.3 1317.4,52.3 1317.8,52.3 1318.2,52.3 1318.6,52.3 1319.0,52.2 1319.4,52.2 1319.8,52.2 1320.2,52.2 1320.6,52.2 1321.0,52.2 1321.4,52.2 1321.9,52.2 1322.3,52.1 1322.7,52.1 1323.1,52.1 1323.5,52.1 1323.9,52.1 1324.3,52.1 1324.7,52.1 1325.1,52.1 1325.5,52.1 1325.9,52.0 1326.3,52.0 1326.8,52.0 1327.2,52.0 1327.6,52.0 1328.0,52.0 1328.4,52.0 1328.8,52.0 1329.2,52.0 1329.6,52.0 1330.0,52.0 1330.4,51.9 1330.8,51.9 1331.2,51.9 1331.7,51.9 1332.1,51.9 1332.5,51.9 1332.9,51.9 1333.3,51.9 1333.7,51.9 1334.1,51.9 1334.5,51.9 1334.9,51.9 1335.3,51.9 1335.7,51.9 1336.1,51.8 1336.5,51.8 1337.0,51.8 1337.4,51.8 1337.8,51.8 1338.2,51.8 1338.6,51.8 1339.0,51.8 1339.4,51.8 1339.8,51.8 1340.2,51.8 1340.6,51.8 1341.0,51.8 1341.4,51.8 1341.9,51.8 1342.3,51.8 1342.7,51.8 1343.1,51.8 1343.5,51.8 1343.9,51.8 1344.3,51.7 1344.7,51.7 1345.1,51.7 1345.5,51.7 1345.9,51.7 1346.3,51.7 1346.8,51.7 1347.2,51.7 1347.6,51.7 1348.0,51.7 1348.4,51.7 1348.8,51.7 1349.2,51.7 1349.6,51.7 1350.0,51.7 1350.4,51.7 1350.8,51.7 1351.2,51.7 1351.6,51.7 1352.1,51.7 1352.5,51.7 1352.9,51.7 1353.3,51.7 1353.7,51.7 1354.1,51.7 1354.5,51.7 1354.9,51.7 1355.3,51.7 1355.7,51.7 1356.1,51.7 1356.5,51.7 1357.0,51.6 1357.4,51.6 1357.8,51.6 1358.2,51.6 1358.6,51.6 1359.0,51.6 1359.4,51.6 1359.8,51.6 1360.2,51.6 1360.6,51.6 1361.0,51.6 1361.4,51.6 1361.9,51.6 1362.3,51.6 1362.7,51.6 1363.1,51.6 1363.5,51.6 1363.9,51.6 1364.3,51.6 1364.7,51.6 1365.1,51.6 1365.5,51.6 1365.9,51.6 1366.3,51.6 1366.8,51.6 1367.2,51.6 1367.6,51.6 1368.0,51.6 1368.4,51.6 1368.8,51.6 1369.2,51.6 1369.6,51.6 1370.0,51.6 1370.4,51.6 1370.8,51.6 1371.2,51.6 1371.6,51.6 1372.1,51.6 1372.5,51.6 1372.9,51.6 1373.3,51.6 1373.7,51.6 1374.1,51.6 1374.5,51.6 1374.9,51.6 1375.3,51.6 1375.7,51.6 1376.1,51.6 1376.5,51.6 1377.0,51.6 1377.4,51.6 1377.8,51.6 1378.2,51.6 1378.6,51.6 1379.0,51.6 1379.4,51.6 1379.8,51.6 1380.2,51.6 1380.6,51.6 1381.0,51.6 1381.4,51.6 1381.9,51.6 1382.3,51.6 1382.7,51.6 1383.1,51.6 1383.5,51.6 1383.9,51.6 1384.3,51.6 1384.7,51.6 1385.1,51.6 1385.5,51.6 1385.9,51.6 1386.3,51.6 1386.7,51.6 1387.2,51.6 1387.6,51.5 1388.0,51.5 1388.4,51.5 1388.8,51.5 1389.2,51.5 1389.6,51.5 1390.0,51.5 1390.4,51.5 1390.8,51.5 1391.2,51.5 1391.6,51.5 1392.1,51.5 1392.5,51.5 1392.9,51.5 1393.3,51.5 1393.7,51.5 1394.1,51.5 1394.5,51.5 1394.9,51.5 1395.3,51.5 1395.7,51.5 1396.1,51.5 1396.5,51.5 1397.0,51.5 1397.4,51.5 1397.8,51.5 1398.2,51.5 1398.6,51.5 1399.0,51.5 1399.4,51.5 1399.8,51.5 1400.2,51.5 1400.6,51.5 1401.0,51.5 1401.4,51.5 1401.8,51.5 1402.3,51.5 1402.7,51.5 1403.1,51.5 1403.5,51.5 1403.9,51.5 1404.3,51.5 1404.7,51.5 1405.1,51.5 1405.5,51.5 1405.9,51.5 1406.3,51.5 1406.7,51.5 1407.1,51.5 1407.6,51.5 1408.0,51.5 1408.4,51.5 1408.8,51.5 1409.2,51.5 1409.6,51.5 1410.0,51.5 1410.4,51.5 1410.8,51.5 1411.2,51.5 1411.6,51.5 1412.0,51.5 1412.4,51.5 1412.9,51.5 1413.3,51.5 1413.7,51.5 1414.1,51.5 1414.5,51.5 1414.9,51.5 1415.3,51.5 1415.7,51.5 1416.1,51.5 1416.5,51.5 1416.9,51.5 1417.3,51.5 1417.7,51.5 1418.2,51.5 1418.6,51.5 1419.0,51.5 1419.4,51.5 1419.8,51.5 1420.2,51.5 1420.6,51.5 1421.0,51.5 1421.4,51.5 1421.8,51.5 1422.2,51.5 1422.6,51.5 1423.0,51.5 1423.5,51.5 1423.9,51.5 1424.3,51.5 1424.7,51.5 1425.1,51.5 1425.5,51.5 1425.9,51.5 1426.3,51.5 1426.7,51.5 1427.1,51.5 1427.5,51.5 1427.9,51.5 1428.3,51.5 1428.8,51.5 1429.2,51.5 1429.6,51.5 1430.0,51.5 1430.4,51.5 1430.8,51.5 1431.2,51.5 1431.6,51.5 1432.0,51.5 1432.4,51.5 1432.8,51.5 1433.2,51.5 1433.6,51.5 1434.1,51.5 1434.5,51.5 1434.9,51.5 1435.3,51.5 1435.7,51.5 1436.1,51.5 1436.5,51.5 1436.9,51.5 1437.3,51.5 1437.7,51.5 1438.1,51.5 1438.5,51.5 1438.9,51.5 1439.4,51.5 1439.8,51.5 1440.2,51.5 1440.6,51.5 1441.0,51.5 1441.4,51.5 1441.8,51.5 1442.2,51.5 1442.6,51.5 1443.0,51.5 1443.4,51.5 1443.8,51.5 1444.2,51.5 1444.7,51.5 1445.1,51.5 1445.5,51.5 1445.9,51.5 1446.3,51.5 1446.7,51.5 1447.1,51.5 1447.5,51.5 1447.9,51.5 1448.3,51.5 1448.7,51.5 1449.1,51.5 1449.5,51.5 1450.0,51.5 1450.4,51.5 1450.8,51.5 1451.2,51.5 1451.6,51.5 1452.0,51.5 1452.4,51.5 1452.8,51.5 1453.2,51.5 1453.6,51.5 1454.0,51.5 1454.4,51.5 1454.8,51.5 1455.3,51.5 1455.7,51.5 1456.1,51.5 1456.5,51.5 1456.9,51.5 1457.3,51.5 1457.7,51.5 1458.1,51.5 1458.5,51.5 1458.9,51.5 1459.3,51.5 1459.7,51.5 1460.1,51.5 1460.6,51.5 1461.0,51.5 1461.4,51.5 1461.8,51.5 1462.2,51.5 1462.6,51.5 1463.0,51.5 1463.4,51.5 1463.8,51.5 1464.2,51.5 1464.6,51.5 1465.0,51.5 1465.4,51.5 1465.9,51.5 1466.3,51.5 1466.7,51.5 1467.1,51.5 1467.5,51.5 1467.9,51.5 1468.3,51.5 1468.7,51.5 1469.1,51.5 1469.5,51.5 1469.9,51.5 1470.3,51.5 1470.7,51.5 1471.2,51.5 1471.6,51.5 1472.0,51.5 1472.4,51.5 1472.8,51.5 1473.2,51.5 1473.6,51.5 1474.0,51.5 1474.4,51.5 1474.8,51.5 1475.2,51.5 1475.6,51.5 1476.0,51.5 1476.5,51.5 1476.9,51.5 1477.3,51.5 1477.7,51.5 1478.1,51.5 1478.5,51.5 1478.9,51.5 1479.3,51.5 1479.7,51.5 1480.1,51.5 1480.5,51.5 1480.9,51.5 1481.3,51.5 1481.8,51.5 1482.2,51.5 1482.6,51.5 1483.0,51.5 1483.4,51.5 1483.8,51.5 1484.2,51.5 1484.6,51.5 1485.0,51.5 1485.4,51.5 1485.8,51.5 1486.2,51.5 1486.6,51.5 1487.1,51.5 1487.5,51.5 1487.9,51.5 1488.3,51.5 1488.7,51.5 1489.1,51.5 1489.5,51.5 1489.9,51.5 1490.3,51.5 1490.7,51.5 1491.1,51.5 1491.5,51.5 1491.9,51.5 1492.4,51.5 1492.8,51.5 1493.2,51.5 1493.6,51.5 1494.0,51.5 1494.4,51.5 1494.8,51.5 1495.2,51.5 1495.6,51.5 1496.0,51.5 1496.4,51.5 1496.8,51.5 1497.2,51.5 1497.7,51.5 1498.1,51.5 1498.5,51.5 1498.9,51.5 1499.3,51.5 1499.7,51.5 1500.1,51.5 1500.5,51.5 1500.9,51.5 1501.3,51.5 1501.7,51.5 1502.1,51.5 1502.6,51.5 1503.0,51.5 1503.4,51.5 1503.8,51.5 1504.2,51.5 1504.6,51.5 1505.0,51.5 1505.4,51.5 1505.8,51.5 1506.2,51.5 1506.6,51.5 1507.0,51.5 1507.5,51.5 1507.9,51.5 1508.3,51.5 1508.7,51.5 1509.1,51.5 1509.5,51.5"/>
<polyline stroke="#149b48" points="282.5,1227.5 283.3,1227.5 284.1,1227.5 285.0,1227.5 285.8,1227.5 286.6,1227.5 287.4,1227.5 288.2,1227.5 289.0,1227.5 289.9,1227.5 290.7,1227.5 291.5,1227.5 292.3,1227.5 293.1,1227.5 293.9,1227.5 294.8,1227.5 295.6,1227.5 296.4,1227.5 297.2,1227.5 298.0,1227.5 298.8,1227.5 299.7,1227.5 300.5,1227.5 301.3,1227.5 302.1,1227.5 302.9,1227.5 303.7,1227.5 304.6,1227.5 305.4,1227.5 306.2,1227.5 307.0,1227.5 307.8,1227.5 308.6,1227.5 309.5,1227.5 310.3,1227.5 311.1,1227.5 311.9,1227.5 312.7,1227.5 313.5,1227.5 314.4,1227.5 315.2,1227.5 316.0,1227.5 316.8,1227.5 317.6,1227.5 318.4,1227.5 319.3,1227.5 320.1,1227.5 320.9,1227.5 321.7,1227.5 322.5,1227.5 323.3,1227.5 324.2,1227.5 325.0,1227.5 325.8,1227.5 326.6,1227.5 327.4,1227.5 328.3,1227.5 329.1,1227.5 329.9,1227.5 330.7,1227.5 331.5,1227.5 332.3,1227.5 333.2,1227.5 334.0,1227.5 334.8,1227.5 335.6,1227.5 336.4,1227.5 337.2,1227.5 338.1,1227.5 338.9,1227.5 339.7,1227.5 340.5,1227.5 341.3,1227.5 342.1,1227.5 343.0,1227.5 343.8,1227.5 344.6,1227.5 345.4,1227.5 346.2,1227.5 347.0,1227.5 347.9,1227.5 348.7,1227.5 349.5,1227.5 350.3,1227.5 351.1,1227.5 351.9,1227.5 352.8,1227.5 353.6,1227.5 354.4,1227.5 355.2,1227.5 356.0,1227.5 356.8,1227.5 357.7,1227.5 358.5,1227.5 359.3,1227.5 360.1,1227.5 360.9,1227.5 361.7,1227.5 362.6,1227.5 363.4,1227.5 364.2,1227.5 365.0,1227.5 365.8,1227.5 366.7,1227.5 367.5,1227.5 368.3,1227.5 369.1,1227.5 369.9,1227.5 370.7,1227.5 371.6,1227.5 372.4,1227.5 373.2,1227.5 374.0,1227.5 374.8,1227.5 375.6,1227.5 376.5,1227.5 377.3,1227.5 378.1,1227.5 378.9,1227.5 379.7,1227.5 380.5,1227.5 381.4,1227.5 382.2,1227.5 383.0,1227.5 383.8,1227.5 384.6,1227.5 385.4,1227.5 386.3,1227.5 387.1,1227.5 387.9,1227.5 388.7,1227.5 389.5,1227.5 390.3,1227.5 391.2,1227.5 392.0,1227.5 392.8,1227.5 393.6,1227.5 394.4,1227.5 395.2,1227.5 396.1,1227.5 396.9,1227.5 397.7,1227.5 398.5,1227.5 399.3,1227.5 400.1,1227.5 401.0,1227.5 401.8,1227.5 402.6,1227.5 403.4,1227.5 404.2,1227.5 405.0,1227.5 405.9,1227.5 406.7,1227.5 407.5,1227.5 408.3,1227.5 409.1,1227.5 410.0,1227.5 410.8,1227.5 411.6,1227.5 412.4,1227.5 413.2,1227.5 414.0,1227.5 414.9,1227.5 415.7,1227.5 416.5,1227.5 417.3,1227.5 418.1,1227.5 418.9,1227.5 419.8,1227.5 420.6,1227.5 421.4,1227.5 422.2,1227.5 423.0,1227.5 423.8,1227.3 424.7,1223.5 425.5,1219.7 426.3,1215.9 427.1,1212.1 427.9,1208.2 428.7,1204.4 429.6,1200.5 430.4,1196.6 431.2,1192.7 432.0,1188.9 432.8,1184.9 433.6,1181.0 434.5,1177.1 435.3,1173.2 436.1,1169.2 436.9,1165.3 437.7,1161.3 438.5,1157.3 439.4,1153.3 440.2,1149.3 441.0,1145.3 441.8,1141.2 442.6,1137.2 443.4,1133.1 444.3,1129.1 445.1,1125.0 445.9,1120.9 446.7,1116.8 447.5,1112.7 448.4,1108.6 449.2,1104.4 450.0,1100.3 450.8,1096.1 451.6,1091.9 452.4,1087.7 453.3,1083.5 454.1,1079.3 454.9,1075.1 455.7,1070.8 456.5,1066.6 457.3,1062.3 458.2,1058.0 459.0,1053.7 459.8,1049.4 460.6,1045.1 461.5,1040.7 462.3,1036.4 463.1,1032.0 463.9,1027.6 464.8,1023.2 465.6,1018.8 466.4,1014.4 467.2,1009.9 468.1,1005.5 468.9,1001.0 469.7,996.5 470.5,992.0 471.4,987.5 472.2,982.9 473.0,978.4 473.8,973.8 474.7,969.2 475.5,964.6 476.3,960.0 477.1,955.3 478.0,950.7 478.8,946.0 479.6,941.3 480.4,936.6 481.3,931.9 482.1,927.1 482.9,922.4 483.7,917.6 484.6,912.8 485.4,908.0 486.2,903.1 487.0,898.3 487.9,893.4 488.7,888.5 489.5,883.6 490.3,878.6 491.1,873.7 492.0,868.7 492.8,863.7 493.6,858.7 494.4,853.6 495.3,848.6 496.1,843.5 496.9,838.4 497.7,833.3 498.6,828.1 499.4,822.9 500.2,817.7 501.0,812.5 501.9,807.3 502.7,802.0 503.5,796.7 504.3,791.4 505.2,786.1 506.0,780.7 506.8,775.3 507.6,769.9 508.4,764.4 509.3,759.0 510.1,753.5 510.9,747.9 511.7,742.4 512.6,736.8 513.4,731.2 514.2,725.6 515.0,719.9 515.9,714.2 516.7,708.5 517.5,702.7 518.3,697.0 519.2,691.1 520.0,685.3 520.8,679.4 521.6,673.5 522.5,667.6 523.3,661.6 524.1,655.6 524.9,649.5 525.7,643.4 526.6,637.3 527.4,631.2 528.2,625.0 529.0,618.7 529.9,612.5 530.7,606.2 531.5,599.8 532.3,593.4 533.2,587.0 534.0,580.5 534.8,574.0 535.6,567.5 536.5,560.9 537.3,554.3 538.1,547.6 538.9,540.9 539.7,534.1 540.6,527.3 541.4,520.4 542.2,513.5 543.0,506.5 543.9,499.5 544.7,492.4 545.5,485.3 546.3,478.2 547.2,470.9 548.0,463.7 548.8,456.3 549.6,448.9 550.5,441.5 551.3,434.0 552.1,426.4 552.9,418.8 553.8,411.2 554.6,403.4 555.4,395.6 556.2,387.8 557.0,379.9 557.9,371.9 558.7,363.8 559.5,355.7 560.3,347.6 561.2,339.4 562.0,331.1 562.8,322.8 563.6,314.4 564.4,305.9 565.3,297.4 566.1,288.9 566.9,280.3 567.7,271.7 568.5,263.0 569.3,254.3 570.1,245.6 571.0,236.8 571.8,228.1 572.6,219.4 573.4,210.7 574.2,202.0 575.0,193.4 575.8,184.8 576.7,176.3 577.5,168.0 578.3,159.7 579.1,151.7 579.9,143.8 580.7,136.1 581.6,128.7 582.4,121.5 583.2,114.6 584.0,108.1 584.8,101.9 585.6,96.0 586.4,90.6 587.3,85.5 588.1,80.9 588.9,76.7 589.7,72.8 590.5,69.4 591.3,66.4 592.1,63.7 593.0,61.4 593.8,59.4 594.6,57.7 595.4,56.2 596.2,55.0 597.0,54.1 597.8,53.3 598.7,52.7 599.5,52.3 600.3,51.9 601.1,51.7 601.9,51.6 602.7,51.5 603.6,51.5 604.5,51.5 605.5,51.6 606.5,51.7 607.4,51.8 608.4,51.9 609.4,52.0 610.3,52.2 611.1,52.3 612.0,52.4 612.8,52.5 613.6,52.6 614.5,52.6 615.3,52.7 616.1,52.8 617.0,52.8 617.8,52.8 618.6,52.8 619.5,52.8 620.3,52.8 621.1,52.8 621.9,52.8 622.7,52.7 623.5,52.7 624.3,52.6 625.1,52.6 625.9,52.5 626.7,52.4 627.5,52.4 628.3,52.3 629.2,52.2 630.0,52.1 630.8,52.1 631.6,52.0 632.4,51.9 633.2,51.9 634.0,51.8 634.8,51.8 635.6,51.7 636.4,51.7 637.2,51.6 638.0,51.6 638.8,51.6 639.6,51.5 640.5,51.5 641.3,51.5 642.1,51.5 642.9,51.5 643.7,51.5 644.5,51.5 645.3,51.5 646.2,51.5 647.0,51.6 647.8,51.6 648.6,51.6 649.4,51.6 650.3,51.7 651.1,51.7 651.9,51.7 652.7,51.8 653.6,51.8 654.4,51.9 655.2,51.9 656.0,52.0 656.9,52.0 657.7,52.0 658.5,52.1 659.3,52.1 660.2,52.2 661.0,52.2 661.8,52.3 662.6,52.3 663.5,52.3 664.3,52.4 665.1,52.4 665.9,52.4 666.7,52.5 667.6,52.5 668.4,52.5 669.2,52.5 670.0,52.6 670.9,52.6 671.7,52.6 672.5,52.6 673.3,52.6 674.2,52.6 675.0,52.6 675.8,52.6 676.6,52.6 677.5,52.6 678.3,52.6 679.1,52.6 679.9,52.6 680.8,52.5 681.6,52.5 682.4,52.5 683.2,52.5 684.1,52.5 684.9,52.4 685.7,52.4 686.5,52.4 687.3,52.3 688.2,52.3 689.0,52.3 689.8,52.2 690.6,52.2 691.5,52.2 692.3,52.1 693.1,52.1 693.9,52.1 694.8,52.0 695.6,52.0 696.4,52.0 697.2,51.9 698.1,51.9 698.9,51.9 699.7,51.8 700.5,51.8 701.4,51.8 702.2,51.7 703.0,51.7 703.8,51.7 704.6,51.7 705.5,51.6 706.3,51.6 707.1,51.6 707.9,51.6 708.8,51.6 709.6,51.6 710.4,51.5 711.2,51.5 712.1,51.5 712.9,51.5 713.7,51.5 714.5,51.5 715.4,51.5 716.2,51.5 717.0,51.5 717.8,51.5 718.7,51.5 719.5,51.5 720.3,51.5 721.1,51.5 721.9,51.5 722.8,51.5 723.6,51.6 724.4,51.6 725.2,51.6 726.1,51.6 726.9,51.6 727.7,51.6 728.5,51.7 729.4,51.7 730.2,51.7 731.0,51.7 731.8,51.7 732.6,51.8 733.5,51.8 734.3,51.8 735.1,51.8 735.9,51.9 736.8,51.9 737.6,51.9 738.4,51.9 739.2,52.0 740.1,52.0 740.9,52.0 741.7,52.0 742.5,52.0 743.3,52.1 744.2,52.1 745.0,52.1 745.8,52.1 746.6,52.1 747.5,52.2 748.3,52.2 749.1,52.2 749.9,52.2 750.8,52.2 751.6,52.2 752.4,52.2 753.2,52.3 754.0,52.3 754.9,52.3 755.7,52.3 756.5,52.3 757.3,52.3 758.2,52.3 759.0,52.3 759.8,52.3 760.6,52.3 761.5,52.3 762.3,52.3 763.1,52.3 763.9,52.3 764.7,52.3 765.6,52.3 766.4,52.3 767.2,52.3 768.0,52.3 768.9,52.3 769.7,52.2 770.5,52.2 771.3,52.2 772.2,52.2 773.0,52.2 773.8,52.2 774.6,52.2 775.4,52.1 776.3,52.1 777.1,52.1 777.9,52.1 778.7,52.1 779.6,52.0 780.4,52.0 781.2,52.0 782.0,52.0 782.9,52.0 783.7,51.9 784.5,51.9 785.3,51.9 786.1,51.9 787.0,51.9 787.8,51.8 788.6,51.8 789.4,51.8 790.3,51.8 791.1,51.8 791.9,51.7 792.7,51.7 793.6,51.7 794.4,51.7 795.2,51.7 796.0,51.7 796.8,51.6 797.7,51.6 798.5,51.6 799.3,51.6 800.1,51.6 801.0,51.6 801.8,51.6 802.6,51.6 803.4,51.5 804.3,51.5 805.1,51.5 805.9,51.5 806.7,51.5 807.5,51.5 808.4,51.5 809.2,51.5 810.0,51.5 810.8,51.5 811.6,51.5 812.5,51.5 813.3,51.5 814.1,51.5 814.9,51.5 815.7,51.5 816.6,51.5 817.4,51.5 818.2,51.5 819.0,51.5 819.8,51.6 820.6,51.6 821.5,51.6 822.3,51.6 823.1,51.6 823.9,51.6 824.7,51.6 825.5,51.6 826.4,51.7 827.2,51.7 828.0,51.7 828.8,51.7 829.6,51.7 830.4,51.7 831.3,51.8 832.1,51.8 832.9,51.8 833.7,51.8 834.5,51.8 835.3,51.9 836.2,51.9 837.0,51.9 837.8,51.9 838.6,52.0 839.4,52.0 840.2,52.0 841.1,52.0 841.9,52.0 842.7,52.1 843.5,52.1 844.3,52.1 845.1,52.1 846.0,52.1 846.8,52.2 847.6,52.2 848.4,52.2 849.2,52.2 850.0,52.2 850.9,52.2 851.7,52.3 852.5,52.3 853.3,52.3 854.1,52.3 854.9,52.3 855.8,52.3 856.6,52.4 857.4,52.4 858.2,52.4 859.0,52.4 859.9,52.4 860.7,52.4 861.5,52.4 862.3,52.4 863.1,52.4 863.9,52.4 864.8,52.4 865.6,52.4 866.4,52.4 867.2,52.4 868.0,52.4 868.8,52.4 869.7,52.4 870.5,52.4 871.3,52.4 872.1,52.4 872.9,52.4 873.7,52.4 874.6,52.4 875.4,52.4 876.2,52.4 877.0,52.4 877.8,52.4 878.6,52.4 879.5,52.4 880.3,52.4 881.1,52.4 881.9,52.3 882.7,52.3 883.5,52.3 884.4,52.3 885.2,52.3 886.0,52.3 886.8,52.2 887.6,52.2 888.4,52.2 889.3,52.2 890.1,52.2 890.9,52.2 891.7,52.1 892.5,52.1 893.3,52.1 894.2,52.1 895.0,52.1 895.8,52.0 896.6,52.0 897.4,52.0 898.2,52.0 899.1,52.0 899.9,51.9 900.7,51.9 901.5,51.9 902.3,51.9 903.2,51.9 904.0,51.8 904.8,51.8 905.6,51.8 906.4,51.8 907.2,51.8 908.1,51.8 908.9,51.7 909.7,51.7 910.5,51.7 911.3,51.7 912.1,51.7 913.0,51.7 913.8,51.6 914.6,51.6 915.4,51.6 916.2,51.6 917.0,51.6 917.9,51.6 918.7,51.6 919.5,51.6 920.3,51.5 921.1,51.5 921.9,51.5 922.8,51.5 923.6,51.5 924.4,51.5 925.2,51.5 926.0,51.5 926.8,51.5 927.7,51.5 928.5,51.5 929.3,51.5 930.1,51.5 930.9,51.5 931.7,51.5 932.6,51.5 933.4,51.5 934.2,51.5 935.0,51.5 935.9,51.5 936.7,51.5 937.6,51.5 938.4,51.6 939.3,51.6 940.1,51.6 941.0,51.6 941.8,51.6 942.7,51.6 943.5,51.6 944.4,51.6 945.2,51.6 946.1,51.7 946.9,51.7 947.8,51.7 948.6,51.7 949.5,51.7 950.3,51.7 951.2,51.8 952.0,51.8 952.9,51.8 953.7,51.8 954.6,51.8 955.4,51.8 956.3,51.9 957.1,51.9 958.0,51.9 958.8,51.9 959.7,51.9 960.5,52.0 961.4,52.0 962.2,52.0 963.1,52.0 963.9,52.0 964.8,52.1 965.6,52.1 966.5,52.1 967.3,52.1 968.2,52.1 969.0,52.1 969.9,52.2 970.7,52.2 971.6,52.2 972.4,52.2 973.3,52.2 974.1,52.2 974.9,52.3 975.7,52.3 976.5,52.3 977.4,52.3 978.2,52.3 979.0,52.3 979.8,52.3 980.6,52.3 981.4,52.4 982.3,52.4 983.1,52.4 983.9,52.4 984.7,52.4 985.5,52.4 986.4,52.4 987.2,52.4 988.0,52.4 988.8,52.4 989.6,52.4 990.3,52.4 991.1,52.4 991.8,52.4 992.5,52.4 993.3,52.4 994.0,52.4 994.8,52.4 995.5,52.4 996.2,52.4 997.0,52.4 997.7,52.4 998.4,52.4 999.2,52.4 999.9,52.4 1000.6,52.3 1001.4,52.3 1002.1,52.3 1002.8,52.3 1003.6,52.3 1004.5,52.3 1005.3,52.3 1006.1,52.3 1006.9,52.2 1007.7,52.2 1008.5,52.2 1009.4,52.2 1010.2,52.2 1011.0,52.2 1011.8,52.1 1012.6,52.1 1013.4,52.1 1014.3,52.1 1015.1,52.1 1015.9,52.1 1016.7,52.0 1017.5,52.0 1018.3,52.0 1019.2,52.0 1020.0,52.0 1020.8,51.9 1021.6,51.9 1022.4,51.9 1023.3,51.9 1024.1,51.9 1024.9,51.8 1025.7,51.8 1026.5,51.8 1027.3,51.8 1028.2,51.8 1029.0,51.7 1029.8,51.7 1030.6,51.7 1031.4,51.7 1032.2,51.7 1033.1,51.7 1033.9,51.7 1034.7,51.6 1035.5,51.6 1036.3,51.6 1037.1,51.6 1038.0,51.6 1038.8,51.6 1039.6,51.6 1040.4,51.6 1041.2,51.5 1042.0,51.5 1042.9,51.5 1043.7,51.5 1044.5,51.5 1045.3,51.5 1046.1,51.5 1046.9,51.5 1047.8,51.5 1048.6,51.5 1049.4,51.5 1050.2,51.5 1051.0,51.5 1051.8,51.5 1052.7,51.5 1053.5,51.5 1054.3,51.5 1055.1,51.5 1055.9,51.5 1056.7,51.5 1057.6,51.5 1058.4,51.5 1059.2,51.6 1060.0,51.6 1060.8,51.6 1061.6,51.6 1062.5,51.6 1063.3,51.6 1064.1,51.6 1064.9,51.6 1065.7,51.6 1066.6,51.7 1067.4,51.7 1068.2,51.7 1069.0,51.7 1069.8,51.7 1070.6,51.7 1071.5,51.7 1072.3,51.8 1073.1,51.8 1073.9,51.8 1074.7,51.8 1075.5,51.8 1076.4,51.9 1077.2,51.9 1078.0,51.9 1078.8,51.9 1079.6,51.9 1080.4,51.9 1081.3,52.0 1082.1,52.0 1082.9,52.0 1083.7,52.0 1084.5,52.0 1085.3,52.0 1086.2,52.0 1087.0,52.1 1087.8,52.1 1088.6,52.1 1089.4,52.1 1090.2,52.1 1091.1,52.1 1091.9,52.1 1092.7,52.1 1093.5,52.1 1094.3,52.2 1095.1,52.2 1096.0,52.2 1096.8,52.2 1097.6,52.2 1098.4,52.2 1099.2,52.2 1100.0,52.2 1100.9,52.2 1101.7,52.2 1102.5,52.2 1103.3,52.2 1104.1,52.2 1105.0,52.2 1105.8,52.2 1106.6,52.2 1107.4,52.2 1108.2,52.2 1109.0,52.1 1109.9,52.1 1110.7,52.1 1111.5,52.1 1112.3,52.1 1113.1,52.1 1113.9,52.1 1114.8,52.1 1115.6,52.1 1116.4,52.0 1117.2,52.0 1118.0,52.0 1118.8,52.0 1119.7,52.0 1120.5,52.0 1121.3,51.9 1122.1,51.9 1122.9,51.9 1123.7,51.9 1124.6,51.9 1125.4,51.8 1126.2,51.8 1127.0,51.8 1127.8,51.8 1128.6,51.8 1129.5,51.7 1130.3,51.7 1131.1,51.7 1131.9,51.7 1132.7,51.7 1133.5,51.6 1134.4,51.6 1135.2,51.6 1136.0,51.6 1136.8,51.6 1137.6,51.6 1138.4,51.6 1139.3,51.5 1140.1,51.5 1140.9,51.5 1141.7,51.5 1142.5,51.5 1143.4,51.5 1144.2,51.5 1145.0,51.5 1145.8,51.5 1146.6,51.5 1147.4,51.5 1148.3,51.5 1149.1,51.5 1149.9,51.5 1150.7,51.5 1151.5,51.5 1152.3,51.5 1153.2,51.6 1154.0,51.6 1154.8,51.6 1155.6,51.6 1156.4,51.6 1157.2,51.6 1158.1,51.7 1158.9,51.7 1159.7,51.7 1160.5,51.7 1161.3,51.7 1162.1,51.8 1163.0,51.8 1163.8,51.8 1164.6,51.9 1165.4,51.9 1166.2,51.9 1167.0,51.9 1167.9,52.0 1168.7,52.0 1169.5,52.0 1170.3,52.1 1171.1,52.1 1171.9,52.1 1172.8,52.1 1173.6,52.2 1174.4,52.2 1175.2,52.2 1176.0,52.2 1176.8,52.3 1177.7,52.3 1178.5,52.3 1179.3,52.3 1180.1,52.3 1180.9,52.3 1181.7,52.3 1182.6,52.3 1183.4,52.3 1184.2,52.3 1185.0,52.3 1185.8,52.3 1186.7,52.3 1187.5,52.3 1188.3,52.3 1189.1,52.3 1189.9,52.2 1190.7,52.2 1191.6,52.2 1192.4,52.1 1193.2,52.1 1194.0,52.1 1194.8,52.0 1195.6,52.0 1196.5,51.9 1197.3,51.9 1198.1,51.9 1198.9,51.8 1199.7,51.8 1200.5,51.7 1201.4,51.7 1202.2,51.6 1203.0,51.6 1203.8,51.6 1204.6,51.5 1205.4,51.5 1206.3,51.5 1207.1,51.5 1207.9,51.5 1208.7,51.5 1209.5,51.6 1210.3,51.6 1211.2,51.7 1212.0,51.8 1212.8,51.9 1213.6,52.1 1214.4,52.3 1215.2,52.5 1216.0,52.7 1216.9,53.0 1217.7,53.4 1218.5,53.8 1219.3,54.2 1220.1,54.7 1220.9,55.2 1221.7,55.8 1222.5,56.5 1223.3,57.3 1224.1,58.1 1224.9,59.0 1225.7,60.0 1226.5,61.0 1227.3,62.2 1228.1,63.4 1228.9,64.8 1229.8,66.2 1230.6,67.8 1231.4,69.5 1232.2,71.2 1233.0,73.1 1233.8,75.1 1234.6,77.2 1235.4,79.5 1236.2,81.8 1237.0,84.3 1237.8,86.9 1238.6,89.5 1239.4,92.3 1240.2,95.3 1241.0,98.3 1241.8,101.4 1242.7,104.6 1243.5,108.0 1244.3,111.4 1245.1,114.9 1245.9,118.5 1246.7,122.2 1247.5,126.0 1248.3,129.9 1249.1,133.8 1249.9,137.8 1250.7,141.8 1251.5,145.9 1252.3,150.1 1253.1,154.3 1253.9,158.6 1254.7,162.9 1255.5,167.2 1256.4,171.6 1257.2,176.0 1258.0,180.5 1258.8,184.9 1259.6,189.4 1260.4,193.9 1261.2,198.4 1262.0,203.0 1262.8,207.5 1263.6,212.0 1264.4,216.6 1265.2,221.1 1266.0,225.7 1266.8,230.2 1267.6,234.8 1268.4,239.3 1269.3,243.9 1270.1,248.4 1270.9,252.9 1271.7,257.4 1272.5,261.9 1273.3,266.4 1274.1,270.9 1274.9,275.4 1275.7,279.8 1276.5,284.3 1277.3,288.7 1278.1,293.1 1278.9,297.5 1279.7,301.8 1280.5,306.2 1281.3,310.5 1282.1,314.9 1283.0,319.2 1283.8,323.4 1284.6,327.7 1285.4,331.9 1286.2,336.2 1287.0,340.4 1287.8,344.6 1288.6,348.7 1289.4,352.9 1290.2,357.0 1291.0,361.1 1291.9,365.2 1292.7,369.3 1293.5,373.3 1294.3,377.3 1295.1,381.4 1295.9,385.3 1296.8,389.3 1297.6,393.3 1298.4,397.2 1299.2,401.1 1300.0,405.0 1300.8,408.9 1301.7,412.7 1302.5,416.6 1303.3,420.4 1304.1,424.2 1304.9,428.0 1305.7,431.7 1306.6,435.5 1307.4,439.2 1308.2,442.9 1309.0,446.6 1309.8,450.3 1310.6,453.9 1311.4,457.6 1312.3,461.2 1313.1,464.8 1313.9,468.4 1314.7,472.0 1315.5,475.5 1316.3,479.0 1317.2,482.6 1318.0,486.1 1318.8,489.6 1319.6,493.0 1320.4,496.5 1321.2,499.9 1322.1,503.3 1322.9,506.8 1323.7,510.1 1324.5,513.5 1325.3,516.9 1326.1,520.2 1327.0,523.6 1327.8,526.9 1328.6,530.2 1329.4,533.5 1330.2,536.7 1331.0,540.0 1331.9,543.2 1332.7,546.5 1333.5,549.7 1334.3,552.9 1335.1,556.1 1335.9,559.3 1336.8,562.4 1337.6,565.6 1338.4,568.7 1339.2,571.8 1340.0,574.9 1340.8,578.0 1341.7,581.1 1342.5,584.2 1343.3,587.2 1344.1,590.3 1344.9,593.3 1345.7,596.3 1346.5,599.3 1347.4,602.3 1348.2,605.3 1349.0,608.3 1349.8,611.3 1350.6,614.2 1351.4,617.1 1352.3,620.1 1353.1,623.0 1353.9,625.9 1354.7,628.8 1355.5,631.7 1356.3,634.5 1357.2,637.4 1358.0,640.2 1358.8,643.1 1359.6,645.9 1360.4,648.7 1361.2,651.5 1362.1,654.3 1362.9,657.1 1363.7,659.9 1364.5,662.6 1365.3,665.4 1366.1,668.1 1367.0,670.8 1367.8,673.6 1368.6,676.3 1369.4,679.0 1370.2,681.7 1371.0,684.4 1371.9,687.0 1372.7,689.7 1373.5,692.3 1374.3,695.0 1375.1,697.6 1375.9,700.2 1376.7,702.9 1377.6,705.5 1378.4,708.1 1379.2,710.6 1380.0,713.2 1380.8,715.8 1381.6,718.4 1382.5,720.9 1383.3,723.5 1384.1,726.0 1384.9,728.5 1385.7,731.0 1386.5,733.5 1387.4,736.0 1388.2,738.5 1389.0,741.0 1389.8,743.5 1390.6,746.0 1391.4,748.4 1392.3,750.9 1393.1,753.3 1393.9,755.8 1394.7,758.2 1395.5,760.6 1396.3,763.0 1397.2,765.4 1398.0,767.8 1398.8,770.2 1399.6,772.6 1400.4,775.0 1401.2,777.3 1402.0,779.7 1402.9,782.0 1403.7,784.4 1404.5,786.7 1405.3,789.0 1406.1,791.4 1406.9,793.7 1407.8,796.0 1408.6,798.3 1409.4,800.6 1410.2,802.8 1411.0,805.1 1411.8,807.4 1412.6,809.7 1413.5,811.9 1414.3,814.2 1415.1,816.4 1415.9,818.6 1416.7,820.9 1417.5,823.1 1418.4,825.3 1419.2,827.5 1420.0,829.7 1420.8,831.9 1421.6,834.1 1422.4,836.3 1423.2,838.5 1424.1,840.6 1424.9,842.8 1425.7,845.0 1426.5,847.1 1427.3,849.2 1428.1,851.4 1429.0,853.5 1429.8,855.6 1430.6,857.8 1431.4,859.9 1432.2,862.0 1433.0,864.1 1433.8,866.2 1434.7,868.3 1435.5,870.4 1436.3,872.4 1437.1,874.5 1437.9,876.6 1438.7,878.6 1439.6,880.7 1440.4,882.7 1441.2,884.8 1442.0,886.8 1442.8,888.8 1443.6,890.9 1444.4,892.9 1445.3,894.9 1446.1,896.9 1446.9,898.9 1447.7,900.9 1448.5,902.9 1449.3,904.9 1450.2,906.9 1451.0,908.8 1451.8,910.8 1452.6,912.8 1453.4,914.7 1454.2,916.7 1455.0,918.6 1455.9,920.6 1456.7,922.5 1457.5,924.4 1458.3,926.4 1459.1,928.3 1459.9,930.2 1460.8,932.1 1461.6,934.0 1462.4,935.9 1463.2,937.8 1464.0,939.7 1464.8,941.6 1465.6,943.5 1466.5,945.4 1467.3,947.2 1468.1,949.1 1468.9,951.0 1469.7,952.8 1470.5,954.7 1471.4,956.5 1472.2,958.4 1473.0,960.2 1473.8,962.1 1474.6,963.9 1475.4,965.7 1476.2,967.5 1477.1,969.3 1477.9,971.2 1478.7,973.0 1479.5,974.8 1480.3,976.6 1481.1,978.3 1482.0,980.1 1482.8,981.9 1483.6,983.7 1484.4,985.5 1485.2,987.2 1486.0,989.0 1486.8,990.8 1487.7,992.5 1488.5,994.3 1489.3,996.0 1490.1,997.8 1490.9,999.5 1491.7,1001.2 1492.6,1003.0 1493.4,1004.7 1494.2,1006.4 1495.0,1008.1 1495.8,1009.9 1496.6,1011.6 1497.4,1013.3 1498.3,1015.0 1499.1,1016.7 1499.9,1018.4 1500.7,1020.1 1501.5,1021.7 1502.3,1023.4 1503.2,1025.1 1504.0,1026.8 1504.8,1028.4 1505.6,1030.1 1506.4,1031.8 1507.2,1033.4 1508.1,1035.1 1508.9,1036.7 1509.7,1038.4"/>
</g>
<rect x="285.5" y="51.5" width="1225.5" height="1050.0" fill="none" stroke="#1b1718" stroke-width="3"/>
<line x1="1511.3" y1="50" x2="1511.3" y2="1103" stroke="#1b1718" stroke-width="3.4"/>
<g fill="#981b1e"><path d="M285.5 33.8L299.0 51.5L285.5 69.2L272.0 51.5Z"/><path d="M310.0 33.8L323.5 51.5L310.0 69.2L296.5 51.5Z"/><path d="M334.5 33.8L348.0 51.5L334.5 69.2L321.0 51.5Z"/><path d="M359.0 33.8L372.5 51.5L359.0 69.2L345.5 51.5Z"/><path d="M383.5 33.8L397.0 51.5L383.5 69.2L370.0 51.5Z"/><path d="M408.0 33.8L421.5 51.5L408.0 69.2L394.5 51.5Z"/><path d="M432.6 33.8L446.1 51.5L432.6 69.2L419.1 51.5Z"/><path d="M457.1 33.8L470.6 51.5L457.1 69.2L443.6 51.5Z"/><path d="M481.6 33.8L495.1 51.5L481.6 69.2L468.1 51.5Z"/><path d="M506.1 33.8L519.6 51.5L506.1 69.2L492.6 51.5Z"/><path d="M530.6 34.0L544.1 51.7L530.6 69.4L517.1 51.7Z"/><path d="M555.1 35.3L568.6 53.0L555.1 70.7L541.6 53.0Z"/><path d="M579.6 63.1L593.1 80.8L579.6 98.5L566.1 80.8Z"/><path d="M604.1 577.5L617.6 595.2L604.1 612.9L590.6 595.2Z"/><path d="M628.6 453.8L642.1 471.5L628.6 489.2L615.1 471.5Z"/><path d="M653.1 601.0L666.6 618.7L653.1 636.4L639.6 618.7Z"/><path d="M677.7 436.8L691.2 454.5L677.7 472.2L664.2 454.5Z"/><path d="M702.2 538.3L715.7 556.0L702.2 573.7L688.7 556.0Z"/><path d="M726.7 711.6L740.2 729.3L726.7 747.0L713.2 729.3Z"/><path d="M751.2 488.6L764.7 506.3L751.2 524.0L737.7 506.3Z"/><path d="M775.7 486.8L789.2 504.5L775.7 522.2L762.2 504.5Z"/><path d="M800.2 641.0L813.7 658.7L800.2 676.4L786.7 658.7Z"/><path d="M824.7 666.3L838.2 684.0L824.7 701.7L811.2 684.0Z"/><path d="M849.2 486.0L862.7 503.7L849.2 521.4L835.7 503.7Z"/><path d="M873.7 452.0L887.2 469.7L873.7 487.4L860.2 469.7Z"/><path d="M898.2 500.4L911.8 518.1L898.2 535.8L884.8 518.1Z"/><path d="M922.8 713.7L936.3 731.4L922.8 749.1L909.3 731.4Z"/><path d="M947.3 629.4L960.8 647.1L947.3 664.8L933.8 647.1Z"/><path d="M971.8 483.9L985.3 501.6L971.8 519.3L958.3 501.6Z"/><path d="M996.3 456.7L1009.8 474.4L996.3 492.1L982.8 474.4Z"/><path d="M1020.8 510.1L1034.3 527.8L1020.8 545.5L1007.3 527.8Z"/><path d="M1045.3 837.0L1058.8 854.7L1045.3 872.4L1031.8 854.7Z"/><path d="M1069.8 609.0L1083.3 626.7L1069.8 644.4L1056.3 626.7Z"/><path d="M1094.3 490.0L1107.8 507.7L1094.3 525.4L1080.8 507.7Z"/><path d="M1118.8 506.4L1132.3 524.1L1118.8 541.8L1105.3 524.1Z"/><path d="M1143.4 876.8L1156.9 894.5L1143.4 912.2L1129.9 894.5Z"/><path d="M1167.9 525.3L1181.4 543.0L1167.9 560.7L1154.4 543.0Z"/><path d="M1192.4 480.3L1205.9 498.0L1192.4 515.7L1178.9 498.0Z"/><path d="M1216.9 423.2L1230.4 440.9L1216.9 458.6L1203.4 440.9Z"/><path d="M1241.4 119.3L1254.9 137.0L1241.4 154.7L1227.9 137.0Z"/><path d="M1265.9 49.2L1279.4 66.9L1265.9 84.6L1252.4 66.9Z"/><path d="M1290.4 37.3L1303.9 55.0L1290.4 72.7L1276.9 55.0Z"/><path d="M1314.9 34.8L1328.4 52.5L1314.9 70.2L1301.4 52.5Z"/><path d="M1339.4 34.1L1352.9 51.8L1339.4 69.5L1325.9 51.8Z"/><path d="M1363.9 33.9L1377.4 51.6L1363.9 69.3L1350.4 51.6Z"/><path d="M1388.5 33.9L1402.0 51.6L1388.5 69.3L1375.0 51.6Z"/><path d="M1413.0 33.8L1426.5 51.5L1413.0 69.2L1399.5 51.5Z"/><path d="M1437.5 33.8L1451.0 51.5L1437.5 69.2L1424.0 51.5Z"/><path d="M1462.0 33.8L1475.5 51.5L1462.0 69.2L1448.5 51.5Z"/><path d="M1486.5 33.8L1500.0 51.5L1486.5 69.2L1473.0 51.5Z"/><path d="M1511.0 33.8L1524.5 51.5L1511.0 69.2L1497.5 51.5Z"/></g>
<g fill="#981b1e"><ellipse cx="457.1" cy="1076.3" rx="13" ry="12.6"/><ellipse cx="481.6" cy="943.8" rx="13" ry="12.6"/><ellipse cx="506.1" cy="795.2" rx="13" ry="12.6"/><ellipse cx="530.6" cy="624.8" rx="13" ry="12.6"/><ellipse cx="555.1" cy="421.5" rx="13" ry="12.6"/><ellipse cx="579.6" cy="175.6" rx="13" ry="12.6"/><ellipse cx="604.1" cy="51.7" rx="13" ry="12.6"/><ellipse cx="628.6" cy="51.7" rx="13" ry="12.6"/><ellipse cx="653.1" cy="51.7" rx="13" ry="12.6"/><ellipse cx="677.7" cy="51.7" rx="13" ry="12.6"/><ellipse cx="702.2" cy="51.7" rx="13" ry="12.6"/><ellipse cx="726.7" cy="51.7" rx="13" ry="12.6"/><ellipse cx="751.2" cy="51.7" rx="13" ry="12.6"/><ellipse cx="775.7" cy="51.7" rx="13" ry="12.6"/><ellipse cx="800.2" cy="51.7" rx="13" ry="12.6"/><ellipse cx="824.7" cy="51.7" rx="13" ry="12.6"/><ellipse cx="849.2" cy="51.7" rx="13" ry="12.6"/><ellipse cx="873.7" cy="51.7" rx="13" ry="12.6"/><ellipse cx="898.2" cy="51.7" rx="13" ry="12.6"/><ellipse cx="922.8" cy="51.7" rx="13" ry="12.6"/><ellipse cx="947.3" cy="51.7" rx="13" ry="12.6"/><ellipse cx="971.8" cy="51.7" rx="13" ry="12.6"/><ellipse cx="996.3" cy="51.7" rx="13" ry="12.6"/><ellipse cx="1020.8" cy="51.7" rx="13" ry="12.6"/><ellipse cx="1045.3" cy="51.7" rx="13" ry="12.6"/><ellipse cx="1069.8" cy="51.7" rx="13" ry="12.6"/><ellipse cx="1094.3" cy="51.7" rx="13" ry="12.6"/><ellipse cx="1118.8" cy="51.7" rx="13" ry="12.6"/><ellipse cx="1143.4" cy="51.7" rx="13" ry="12.6"/><ellipse cx="1167.9" cy="51.7" rx="13" ry="12.6"/><ellipse cx="1192.4" cy="51.7" rx="13" ry="12.6"/><ellipse cx="1216.9" cy="51.7" rx="13" ry="12.6"/><ellipse cx="1241.4" cy="96.5" rx="13" ry="12.6"/><ellipse cx="1265.9" cy="219.6" rx="13" ry="12.6"/><ellipse cx="1290.4" cy="352.2" rx="13" ry="12.6"/><ellipse cx="1314.9" cy="469.6" rx="13" ry="12.6"/><ellipse cx="1339.4" cy="570.1" rx="13" ry="12.6"/><ellipse cx="1363.9" cy="659.3" rx="13" ry="12.6"/><ellipse cx="1388.5" cy="737.9" rx="13" ry="12.6"/><ellipse cx="1413.0" cy="808.6" rx="13" ry="12.6"/><ellipse cx="1437.5" cy="873.0" rx="13" ry="12.6"/><ellipse cx="1462.0" cy="931.1" rx="13" ry="12.6"/><ellipse cx="1486.5" cy="986.3" rx="13" ry="12.6"/><ellipse cx="1511.0" cy="1036.7" rx="13" ry="12.6"/></g>
<text class="tk" transform="translate(262.5,71.0) scale(0.94,1)" text-anchor="end">0</text>
<text class="tk" transform="translate(262.5,281.0) scale(0.94,1)" text-anchor="end">10</text>
<text class="mn" transform="translate(155.3,277.6) scale(1.33,0.65)">−</text>
<text class="tk" transform="translate(262.5,491.0) scale(0.94,1)" text-anchor="end">20</text>
<text class="mn" transform="translate(155.3,487.6) scale(1.33,0.65)">−</text>
<text class="tk" transform="translate(262.5,701.0) scale(0.94,1)" text-anchor="end">30</text>
<text class="mn" transform="translate(155.3,697.6) scale(1.33,0.65)">−</text>
<text class="tk" transform="translate(262.5,911.0) scale(0.94,1)" text-anchor="end">40</text>
<text class="mn" transform="translate(155.3,907.6) scale(1.33,0.65)">−</text>
<text class="tk" transform="translate(262.5,1121.0) scale(0.94,1)" text-anchor="end">50</text>
<text class="mn" transform="translate(155.3,1117.6) scale(1.33,0.65)">−</text>
<text class="tk" transform="translate(286.5,1163) scale(0.94,1)" text-anchor="middle">10</text>
<text class="tk" transform="translate(592.9,1163) scale(0.94,1)" text-anchor="middle">10.5</text>
<text class="tk" transform="translate(899.2,1163) scale(0.94,1)" text-anchor="middle">11</text>
<text class="tk" transform="translate(1205.6,1163) scale(0.94,1)" text-anchor="middle">11.5</text>
<text class="tk" transform="translate(1512.0,1163) scale(0.94,1)" text-anchor="middle">12</text>
<rect x="576.5" y="745.0" width="644.1" height="344.4" fill="#fff" stroke="#48494b" stroke-width="3"/>
<line x1="597.5" y1="797.5" x2="703" y2="797.5" stroke="#2a2e87" stroke-width="7"/>
<line x1="597.5" y1="877.5" x2="703" y2="877.5" stroke="#149b48" stroke-width="7"/>
<line x1="597.5" y1="957.5" x2="703" y2="957.5" stroke="#981b1e" stroke-width="7"/>
<line x1="597.5" y1="1036.9" x2="703" y2="1036.9" stroke="#981b1e" stroke-width="7"/>
<g fill="#981b1e"><path d="M650.3 939.7L662.0 957.5L650.3 975.3L638.6 957.5Z"/></g>
<ellipse cx="650.3" cy="1036.9" rx="12.8" ry="12.4" fill="#981b1e"/>
<text transform="translate(727.5,817.2) scale(0.7,1.13)" text-anchor="middle">|</text>
<text class="it" transform="translate(737.2,816.5) scale(1.16,1.02)">S</text>
<text class="sub" x="774" y="824.5">11</text>
<text transform="translate(834,817.2) scale(0.7,1.13)" text-anchor="middle">|</text>
<text x="863" y="816.2" textLength="90.3" lengthAdjust="spacingAndGlyphs">fast</text>
<text transform="translate(727.5,897.2) scale(0.7,1.13)" text-anchor="middle">|</text>
<text class="it" transform="translate(737.2,896.5) scale(1.16,1.02)">S</text>
<text class="sub" x="774" y="904.5" style="letter-spacing:4px">21</text>
<text transform="translate(834,897.2) scale(0.7,1.13)" text-anchor="middle">|</text>
<text x="863" y="896.2" textLength="90.3" lengthAdjust="spacingAndGlyphs">fast</text>
<text transform="translate(727.5,977.0) scale(0.7,1.13)" text-anchor="middle">|</text>
<text class="it" transform="translate(737.2,976.3) scale(1.16,1.02)">S</text>
<text class="sub" x="774" y="984.3">11</text>
<text transform="translate(834,977.0) scale(0.7,1.13)" text-anchor="middle">|</text>
<text x="863" y="976.0" textLength="112.4" lengthAdjust="spacingAndGlyphs">CST</text>
<text x="997.3" y="976.0" textLength="192.5" lengthAdjust="spacingAndGlyphs">discrete</text>
<text transform="translate(727.5,1056.8) scale(0.7,1.13)" text-anchor="middle">|</text>
<text class="it" transform="translate(737.2,1056.1) scale(1.16,1.02)">S</text>
<text class="sub" x="774" y="1064.1" style="letter-spacing:4px">21</text>
<text transform="translate(834,1056.8) scale(0.7,1.13)" text-anchor="middle">|</text>
<text x="863" y="1055.8" textLength="112.4" lengthAdjust="spacingAndGlyphs">CST</text>
<text x="997.3" y="1055.8" textLength="192.5" lengthAdjust="spacingAndGlyphs">discrete</text>
<text class="lab" x="680.4" y="1256" textLength="253.3" lengthAdjust="spacingAndGlyphs">Frequency</text>
<text class="lab" x="959.6" y="1256" textLength="158.2" lengthAdjust="spacingAndGlyphs">(GHz)</text>
<g class="lab" transform="translate(84.6,0) rotate(-90)">
<text class="lab" x="-990.2" y="0" textLength="250" lengthAdjust="spacingAndGlyphs">Reflection</text>
<text class="lab" x="-716.3" y="0" textLength="86" lengthAdjust="spacingAndGlyphs">and</text>
<text class="lab" x="-607.2" y="0" textLength="312.5" lengthAdjust="spacingAndGlyphs">transmission</text>
<text class="lab" x="-272.2" y="0" textLength="110" lengthAdjust="spacingAndGlyphs">(dB)</text>
</g>
</svg></body></html>
